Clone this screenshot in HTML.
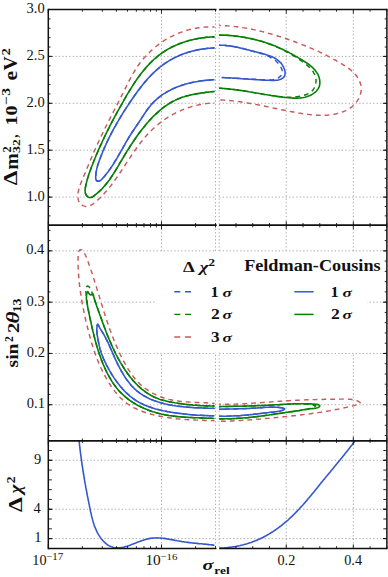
<!DOCTYPE html>
<html><head><meta charset="utf-8"><style>
html,body{margin:0;padding:0;background:#fff;width:388px;height:577px;overflow:hidden}
svg{display:block}
text{font-family:"Liberation Serif",serif;fill:#111}
.g{stroke:#a0a0a0;stroke-width:0.9;stroke-dasharray:1.3 2.2;fill:none}
.cs{fill:none;stroke-width:1.6;stroke-linejoin:round;stroke-linecap:round}
.cd{fill:none;stroke-width:1.45;stroke-dasharray:4.8 4.0}
.b{font-weight:bold}
.bi{font-weight:bold;font-style:italic}
</style></head><body>
<svg width="388" height="577" viewBox="0 0 388 577">
<rect width="388" height="577" fill="#fff"/>
<defs>
<clipPath id="cl0"><rect x="48.30" y="9.50" width="166.21" height="215.70"/></clipPath>
<clipPath id="cr0"><rect x="219.20" y="9.50" width="167.70" height="215.70"/></clipPath>
<clipPath id="cl1"><rect x="48.30" y="225.20" width="166.21" height="215.50"/></clipPath>
<clipPath id="cr1"><rect x="219.20" y="225.20" width="167.70" height="215.50"/></clipPath>
<clipPath id="cl2"><rect x="48.30" y="440.70" width="166.21" height="107.70"/></clipPath>
<clipPath id="cr2"><rect x="219.20" y="440.70" width="167.70" height="107.70"/></clipPath>
</defs>
<line x1="48.30" y1="197.10" x2="215.51" y2="197.10" class="g"/>
<line x1="219.20" y1="197.10" x2="386.90" y2="197.10" class="g"/>
<line x1="48.30" y1="150.20" x2="215.51" y2="150.20" class="g"/>
<line x1="219.20" y1="150.20" x2="386.90" y2="150.20" class="g"/>
<line x1="48.30" y1="103.30" x2="215.51" y2="103.30" class="g"/>
<line x1="219.20" y1="103.30" x2="386.90" y2="103.30" class="g"/>
<line x1="48.30" y1="56.40" x2="215.51" y2="56.40" class="g"/>
<line x1="219.20" y1="56.40" x2="386.90" y2="56.40" class="g"/>
<line x1="161.50" y1="9.50" x2="161.50" y2="225.20" class="g"/>
<line x1="215.51" y1="9.50" x2="215.51" y2="225.20" class="g"/>
<line x1="219.20" y1="9.50" x2="219.20" y2="225.20" class="g"/>
<line x1="286.26" y1="9.50" x2="286.26" y2="225.20" class="g"/>
<line x1="353.32" y1="9.50" x2="353.32" y2="225.20" class="g"/>
<line x1="48.30" y1="404.75" x2="215.51" y2="404.75" class="g"/>
<line x1="219.20" y1="404.75" x2="386.90" y2="404.75" class="g"/>
<line x1="48.30" y1="353.45" x2="215.51" y2="353.45" class="g"/>
<line x1="219.20" y1="353.45" x2="386.90" y2="353.45" class="g"/>
<line x1="48.30" y1="302.15" x2="215.51" y2="302.15" class="g"/>
<line x1="219.20" y1="302.15" x2="386.90" y2="302.15" class="g"/>
<line x1="48.30" y1="250.85" x2="215.51" y2="250.85" class="g"/>
<line x1="219.20" y1="250.85" x2="386.90" y2="250.85" class="g"/>
<line x1="161.50" y1="225.20" x2="161.50" y2="440.70" class="g"/>
<line x1="215.51" y1="225.20" x2="215.51" y2="440.70" class="g"/>
<line x1="219.20" y1="225.20" x2="219.20" y2="440.70" class="g"/>
<line x1="286.26" y1="225.20" x2="286.26" y2="440.70" class="g"/>
<line x1="353.32" y1="225.20" x2="353.32" y2="440.70" class="g"/>
<line x1="48.30" y1="538.60" x2="215.51" y2="538.60" class="g"/>
<line x1="219.20" y1="538.60" x2="386.90" y2="538.60" class="g"/>
<line x1="48.30" y1="509.23" x2="215.51" y2="509.23" class="g"/>
<line x1="219.20" y1="509.23" x2="386.90" y2="509.23" class="g"/>
<line x1="48.30" y1="460.28" x2="215.51" y2="460.28" class="g"/>
<line x1="219.20" y1="460.28" x2="386.90" y2="460.28" class="g"/>
<line x1="161.50" y1="440.70" x2="161.50" y2="548.40" class="g"/>
<line x1="215.51" y1="440.70" x2="215.51" y2="548.40" class="g"/>
<line x1="219.20" y1="440.70" x2="219.20" y2="548.40" class="g"/>
<line x1="286.26" y1="440.70" x2="286.26" y2="548.40" class="g"/>
<line x1="353.32" y1="440.70" x2="353.32" y2="548.40" class="g"/>
<path d="M217.1 27.1 L215.5 27.0 L214.0 27.0 L212.4 26.9 L210.9 26.9 L209.4 26.9 L207.8 27.0 L206.3 27.0 L204.8 27.1 L203.3 27.3 L201.8 27.4 L200.3 27.6 L198.8 27.8 L197.3 28.0 L195.8 28.3 L194.3 28.5 L192.8 28.8 L191.4 29.1 L189.9 29.5 L188.5 29.9 L187.0 30.3 L185.6 30.7 L184.2 31.1 L182.8 31.6 L181.4 32.1 L180.0 32.6 L178.6 33.2 L177.2 33.7 L175.8 34.3 L174.5 35.0 L173.1 35.6 L171.8 36.3 L170.5 36.9 L169.1 37.7 L167.8 38.4 L166.5 39.1 L165.2 39.9 L164.0 40.7 L162.7 41.6 L161.5 42.4 L160.2 43.3 L159.0 44.2 L157.8 45.1 L156.6 46.0 L155.4 47.0 L154.2 48.0 L153.1 49.0 L151.9 50.0 L150.8 51.0 L149.7 52.1 L148.6 53.1 L147.5 54.2 L146.4 55.3 L145.4 56.5 L144.4 57.6 L143.4 58.7 L142.4 59.9 L141.4 61.1 L140.5 62.3 L139.6 63.5 L138.7 64.7 L137.8 65.9 L137.0 67.2 L136.2 68.4 L135.4 69.7 L134.6 71.0 L133.8 72.3 L133.0 73.6 L132.3 74.9 L131.6 76.2 L130.9 77.5 L130.2 78.8 L129.5 80.1 L128.8 81.4 L128.1 82.8 L127.5 84.1 L126.8 85.4 L126.1 86.8 L125.4 88.1 L124.8 89.5 L124.1 90.8 L123.4 92.1 L122.8 93.5 L122.1 94.8 L121.4 96.2 L120.7 97.5 L120.0 98.9 L119.3 100.2 L118.7 101.5 L118.0 102.9 L117.3 104.2 L116.6 105.6 L115.9 106.9 L115.2 108.3 L114.5 109.6 L113.8 111.0 L113.1 112.3 L112.5 113.7 L111.8 115.0 L111.1 116.4 L110.4 117.7 L109.7 119.1 L109.0 120.4 L108.3 121.8 L107.7 123.1 L107.0 124.5 L106.3 125.8 L105.6 127.2 L104.9 128.5 L104.3 129.9 L103.6 131.3 L102.9 132.6 L102.3 134.0 L101.6 135.3 L101.0 136.7 L100.3 138.1 L99.7 139.4 L99.0 140.8 L98.4 142.1 L97.7 143.5 L97.1 144.9 L96.5 146.2 L95.9 147.6 L95.3 149.0 L94.6 150.3 L94.0 151.7 L93.4 153.1 L92.8 154.5 L92.2 155.8 L91.7 157.2 L91.1 158.6 L90.5 160.0 L89.9 161.4 L89.3 162.7 L88.7 164.1 L88.2 165.5 L87.6 166.9 L87.0 168.3 L86.4 169.7 L85.8 171.1 L85.3 172.5 L84.7 173.9 L84.1 175.3 L83.5 176.7 L82.9 178.1 L82.3 179.5 L81.7 180.9 L81.1 182.4 L80.6 183.8 L80.0 185.2 L79.6 186.7 L79.1 188.1 L78.7 189.6 L78.4 191.1 L78.1 192.6 L78.0 194.1 L77.9 195.6 L77.9 197.2 L78.1 198.7 L78.4 200.2 L78.9 201.6 L79.6 202.8 L80.6 203.9 L81.7 204.9 L82.9 205.6 L84.2 206.1 L85.6 206.4 L87.0 206.4 L88.3 206.2 L89.7 205.8 L91.0 205.2 L92.3 204.4 L93.6 203.5 L94.9 202.5 L96.1 201.5 L97.3 200.4 L98.5 199.3 L99.7 198.2 L100.8 197.1 L101.9 196.0 L103.0 194.9 L104.0 193.8 L105.0 192.6 L106.0 191.5 L107.0 190.4 L108.0 189.2 L108.9 188.1 L109.9 186.9 L110.8 185.8 L111.7 184.6 L112.6 183.4 L113.4 182.2 L114.3 181.0 L115.2 179.8 L116.0 178.6 L116.9 177.4 L117.7 176.2 L118.6 175.0 L119.4 173.7 L120.2 172.5 L121.1 171.2 L121.9 170.0 L122.7 168.7 L123.5 167.4 L124.4 166.2 L125.2 164.9 L126.0 163.6 L126.9 162.4 L127.7 161.1 L128.5 159.8 L129.4 158.6 L130.2 157.3 L131.1 156.0 L131.9 154.8 L132.8 153.5 L133.7 152.2 L134.5 151.0 L135.4 149.8 L136.3 148.5 L137.2 147.3 L138.1 146.1 L139.0 144.8 L139.9 143.6 L140.8 142.4 L141.8 141.2 L142.7 140.1 L143.7 138.9 L144.6 137.7 L145.6 136.6 L146.6 135.5 L147.6 134.3 L148.7 133.2 L149.7 132.1 L150.7 131.1 L151.8 130.0 L152.9 129.0 L154.0 128.0 L155.1 126.9 L156.2 126.0 L157.4 125.0 L158.6 124.0 L159.7 123.1 L160.9 122.2 L162.1 121.3 L163.3 120.4 L164.6 119.5 L165.8 118.7 L167.1 117.9 L168.3 117.1 L169.6 116.3 L170.9 115.5 L172.2 114.8 L173.5 114.1 L174.9 113.4 L176.2 112.7 L177.6 112.0 L178.9 111.4 L180.3 110.8 L181.7 110.2 L183.1 109.6 L184.5 109.0 L185.9 108.5 L187.3 108.0 L188.7 107.5 L190.2 107.1 L191.6 106.6 L193.1 106.2 L194.5 105.8 L196.0 105.4 L197.5 105.1 L198.9 104.8 L200.4 104.5 L201.9 104.2 L203.4 104.0 L204.9 103.8 L206.4 103.6 L207.9 103.4 L209.4 103.2 L211.0 103.1 L212.5 103.0 L214.0 103.0 L215.6 102.9 L217.1 102.9" class="cd" stroke="#c85a5a" clip-path="url(#cl0)"/>
<path d="M216.8 36.9 L215.4 36.9 L214.0 36.9 L212.6 36.9 L211.1 37.0 L209.6 37.1 L208.2 37.2 L206.7 37.3 L205.2 37.5 L203.7 37.7 L202.2 37.9 L200.7 38.1 L199.2 38.3 L197.7 38.6 L196.3 38.9 L194.8 39.2 L193.3 39.5 L191.8 39.9 L190.3 40.2 L188.8 40.6 L187.3 41.1 L185.8 41.5 L184.4 42.0 L182.9 42.5 L181.5 43.0 L180.0 43.5 L178.6 44.1 L177.2 44.7 L175.7 45.3 L174.4 45.9 L173.0 46.5 L171.6 47.2 L170.3 47.9 L168.9 48.6 L167.6 49.4 L166.3 50.2 L165.0 50.9 L163.8 51.8 L162.5 52.6 L161.3 53.5 L160.1 54.3 L159.0 55.2 L157.8 56.2 L156.6 57.1 L155.5 58.1 L154.4 59.0 L153.3 60.0 L152.2 61.1 L151.2 62.1 L150.1 63.1 L149.1 64.2 L148.1 65.3 L147.1 66.4 L146.1 67.5 L145.1 68.6 L144.2 69.8 L143.2 70.9 L142.3 72.1 L141.3 73.3 L140.4 74.5 L139.5 75.7 L138.6 76.9 L137.8 78.1 L136.9 79.3 L136.0 80.6 L135.2 81.8 L134.3 83.1 L133.5 84.4 L132.7 85.6 L131.9 86.9 L131.1 88.2 L130.3 89.5 L129.5 90.8 L128.7 92.1 L127.9 93.4 L127.1 94.7 L126.3 96.0 L125.6 97.4 L124.8 98.7 L124.1 100.0 L123.3 101.3 L122.6 102.6 L121.8 104.0 L121.1 105.3 L120.3 106.6 L119.6 107.9 L118.9 109.2 L118.1 110.6 L117.4 111.9 L116.7 113.2 L116.0 114.5 L115.2 115.9 L114.5 117.2 L113.8 118.5 L113.1 119.9 L112.4 121.2 L111.7 122.5 L111.0 123.9 L110.3 125.2 L109.6 126.5 L109.0 127.9 L108.3 129.2 L107.6 130.5 L107.0 131.9 L106.3 133.2 L105.6 134.6 L105.0 135.9 L104.3 137.3 L103.7 138.6 L103.0 140.0 L102.4 141.3 L101.8 142.7 L101.2 144.1 L100.5 145.4 L99.9 146.8 L99.3 148.2 L98.7 149.5 L98.1 150.9 L97.5 152.3 L96.9 153.7 L96.3 155.0 L95.7 156.4 L95.2 157.8 L94.6 159.2 L94.0 160.6 L93.5 162.0 L92.9 163.4 L92.4 164.8 L91.8 166.2 L91.3 167.6 L90.8 169.0 L90.3 170.5 L89.7 171.9 L89.2 173.3 L88.7 174.7 L88.3 176.2 L87.8 177.6 L87.4 179.1 L87.0 180.6 L86.6 182.1 L86.2 183.6 L85.9 185.1 L85.6 186.6 L85.3 188.1 L85.1 189.7 L85.1 191.2 L85.3 192.7 L85.7 194.1 L86.4 195.4 L87.4 196.5 L88.5 197.2 L89.7 197.6 L91.0 197.5 L92.3 197.0 L93.6 196.1 L94.8 195.2 L96.1 194.2 L97.3 193.2 L98.4 192.2 L99.6 191.1 L100.7 190.1 L101.8 189.0 L102.8 187.9 L103.8 186.7 L104.8 185.6 L105.8 184.5 L106.7 183.3 L107.7 182.1 L108.6 180.9 L109.5 179.7 L110.3 178.5 L111.2 177.3 L112.0 176.0 L112.8 174.8 L113.6 173.5 L114.4 172.2 L115.2 171.0 L116.0 169.7 L116.8 168.4 L117.6 167.1 L118.3 165.8 L119.1 164.5 L119.8 163.2 L120.6 161.9 L121.4 160.6 L122.1 159.3 L122.9 158.0 L123.7 156.8 L124.4 155.5 L125.2 154.2 L126.0 152.9 L126.8 151.6 L127.6 150.3 L128.4 149.0 L129.2 147.8 L130.0 146.5 L130.8 145.2 L131.6 144.0 L132.5 142.7 L133.3 141.5 L134.2 140.2 L135.0 139.0 L135.9 137.7 L136.7 136.5 L137.6 135.3 L138.5 134.0 L139.4 132.8 L140.3 131.6 L141.2 130.4 L142.1 129.2 L143.1 128.1 L144.0 126.9 L145.0 125.7 L145.9 124.6 L146.9 123.4 L147.9 122.3 L148.9 121.1 L149.9 120.0 L150.9 118.9 L152.0 117.8 L153.0 116.7 L154.1 115.7 L155.2 114.6 L156.3 113.6 L157.4 112.6 L158.5 111.6 L159.6 110.6 L160.8 109.6 L162.0 108.7 L163.1 107.7 L164.3 106.8 L165.5 106.0 L166.8 105.1 L168.0 104.3 L169.3 103.5 L170.5 102.7 L171.8 102.0 L173.1 101.3 L174.5 100.6 L175.8 99.9 L177.2 99.3 L178.5 98.7 L179.9 98.2 L181.3 97.6 L182.8 97.1 L184.2 96.7 L185.7 96.2 L187.1 95.8 L188.6 95.5 L190.1 95.1 L191.6 94.8 L193.1 94.5 L194.6 94.2 L196.1 93.9 L197.6 93.6 L199.1 93.4 L200.6 93.1 L202.1 92.9 L203.6 92.7 L205.1 92.5 L206.6 92.3 L208.1 92.1 L209.6 92.0 L211.1 91.8 L212.6 91.6 L214.0 91.5 L215.5 91.3 L216.9 91.1" class="cd" stroke="#067f06" clip-path="url(#cl0)"/>
<path d="M216.8 36.9 L215.4 36.9 L214.0 36.9 L212.6 36.9 L211.1 37.0 L209.6 37.1 L208.2 37.2 L206.7 37.3 L205.2 37.5 L203.7 37.7 L202.2 37.9 L200.7 38.1 L199.2 38.3 L197.7 38.6 L196.3 38.9 L194.8 39.2 L193.3 39.5 L191.8 39.9 L190.3 40.2 L188.8 40.6 L187.3 41.1 L185.8 41.5 L184.4 42.0 L182.9 42.5 L181.5 43.0 L180.0 43.5 L178.6 44.1 L177.2 44.7 L175.7 45.3 L174.4 45.9 L173.0 46.5 L171.6 47.2 L170.3 47.9 L168.9 48.6 L167.6 49.4 L166.3 50.2 L165.0 50.9 L163.8 51.8 L162.5 52.6 L161.3 53.5 L160.1 54.3 L159.0 55.2 L157.8 56.2 L156.6 57.1 L155.5 58.1 L154.4 59.0 L153.3 60.0 L152.2 61.1 L151.2 62.1 L150.1 63.1 L149.1 64.2 L148.1 65.3 L147.1 66.4 L146.1 67.5 L145.1 68.6 L144.2 69.8 L143.2 70.9 L142.3 72.1 L141.3 73.3 L140.4 74.5 L139.5 75.7 L138.6 76.9 L137.8 78.1 L136.9 79.3 L136.0 80.6 L135.2 81.8 L134.3 83.1 L133.5 84.4 L132.7 85.6 L131.9 86.9 L131.1 88.2 L130.3 89.5 L129.5 90.8 L128.7 92.1 L127.9 93.4 L127.1 94.7 L126.3 96.0 L125.6 97.4 L124.8 98.7 L124.1 100.0 L123.3 101.3 L122.6 102.6 L121.8 104.0 L121.1 105.3 L120.3 106.6 L119.6 107.9 L118.9 109.2 L118.1 110.6 L117.4 111.9 L116.7 113.2 L116.0 114.5 L115.2 115.9 L114.5 117.2 L113.8 118.5 L113.1 119.9 L112.4 121.2 L111.7 122.5 L111.0 123.9 L110.3 125.2 L109.6 126.5 L109.0 127.9 L108.3 129.2 L107.6 130.5 L107.0 131.9 L106.3 133.2 L105.6 134.6 L105.0 135.9 L104.3 137.3 L103.7 138.6 L103.0 140.0 L102.4 141.3 L101.8 142.7 L101.2 144.1 L100.5 145.4 L99.9 146.8 L99.3 148.2 L98.7 149.5 L98.1 150.9 L97.5 152.3 L96.9 153.7 L96.3 155.0 L95.7 156.4 L95.2 157.8 L94.6 159.2 L94.0 160.6 L93.5 162.0 L92.9 163.4 L92.4 164.8 L91.8 166.2 L91.3 167.6 L90.8 169.0 L90.3 170.5 L89.7 171.9 L89.2 173.3 L88.7 174.7 L88.3 176.2 L87.8 177.6 L87.4 179.1 L87.0 180.6 L86.6 182.1 L86.2 183.6 L85.9 185.1 L85.6 186.6 L85.3 188.1 L85.1 189.7 L85.1 191.2 L85.3 192.7 L85.7 194.1 L86.4 195.4 L87.4 196.5 L88.5 197.2 L89.7 197.6 L91.0 197.5 L92.3 197.0 L93.6 196.1 L94.8 195.2 L96.1 194.2 L97.3 193.2 L98.4 192.2 L99.6 191.1 L100.7 190.1 L101.8 189.0 L102.8 187.9 L103.8 186.7 L104.8 185.6 L105.8 184.5 L106.7 183.3 L107.7 182.1 L108.6 180.9 L109.5 179.7 L110.3 178.5 L111.2 177.3 L112.0 176.0 L112.8 174.8 L113.6 173.5 L114.4 172.2 L115.2 171.0 L116.0 169.7 L116.8 168.4 L117.6 167.1 L118.3 165.8 L119.1 164.5 L119.8 163.2 L120.6 161.9 L121.4 160.6 L122.1 159.3 L122.9 158.0 L123.7 156.8 L124.4 155.5 L125.2 154.2 L126.0 152.9 L126.8 151.6 L127.6 150.3 L128.4 149.0 L129.2 147.8 L130.0 146.5 L130.8 145.2 L131.6 144.0 L132.5 142.7 L133.3 141.5 L134.2 140.2 L135.0 139.0 L135.9 137.7 L136.7 136.5 L137.6 135.3 L138.5 134.0 L139.4 132.8 L140.3 131.6 L141.2 130.4 L142.1 129.2 L143.1 128.1 L144.0 126.9 L145.0 125.7 L145.9 124.6 L146.9 123.4 L147.9 122.3 L148.9 121.1 L149.9 120.0 L150.9 118.9 L152.0 117.8 L153.0 116.7 L154.1 115.7 L155.2 114.6 L156.3 113.6 L157.4 112.6 L158.5 111.6 L159.6 110.6 L160.8 109.6 L162.0 108.7 L163.1 107.7 L164.3 106.8 L165.5 106.0 L166.8 105.1 L168.0 104.3 L169.3 103.5 L170.5 102.7 L171.8 102.0 L173.1 101.3 L174.5 100.6 L175.8 99.9 L177.2 99.3 L178.5 98.7 L179.9 98.2 L181.3 97.6 L182.8 97.1 L184.2 96.7 L185.7 96.2 L187.1 95.8 L188.6 95.5 L190.1 95.1 L191.6 94.8 L193.1 94.5 L194.6 94.2 L196.1 93.9 L197.6 93.6 L199.1 93.4 L200.6 93.1 L202.1 92.9 L203.6 92.7 L205.1 92.5 L206.6 92.3 L208.1 92.1 L209.6 92.0 L211.1 91.8 L212.6 91.6 L214.0 91.5 L215.5 91.3 L216.9 91.1" class="cs" stroke="#067f06" clip-path="url(#cl0)"/>
<path d="M216.9 47.9 L215.5 47.9 L214.0 47.9 L212.5 48.0 L211.0 48.1 L209.6 48.2 L208.1 48.3 L206.6 48.5 L205.1 48.7 L203.6 48.9 L202.1 49.1 L200.6 49.3 L199.1 49.6 L197.6 49.9 L196.1 50.2 L194.6 50.6 L193.2 50.9 L191.7 51.3 L190.2 51.7 L188.8 52.1 L187.3 52.6 L185.9 53.1 L184.4 53.6 L183.0 54.1 L181.6 54.6 L180.1 55.2 L178.7 55.8 L177.4 56.4 L176.0 57.0 L174.6 57.7 L173.3 58.4 L172.0 59.1 L170.6 59.8 L169.3 60.6 L168.1 61.4 L166.8 62.2 L165.5 63.0 L164.3 63.8 L163.1 64.7 L161.9 65.6 L160.7 66.5 L159.6 67.4 L158.4 68.4 L157.3 69.4 L156.2 70.3 L155.1 71.4 L154.0 72.4 L152.9 73.4 L151.8 74.5 L150.8 75.5 L149.8 76.6 L148.7 77.7 L147.7 78.8 L146.7 80.0 L145.7 81.1 L144.7 82.3 L143.8 83.4 L142.8 84.6 L141.9 85.8 L140.9 87.0 L140.0 88.2 L139.1 89.4 L138.2 90.6 L137.3 91.8 L136.4 93.0 L135.5 94.3 L134.6 95.5 L133.7 96.8 L132.9 98.0 L132.0 99.3 L131.2 100.5 L130.3 101.8 L129.5 103.0 L128.6 104.3 L127.8 105.6 L127.0 106.8 L126.1 108.1 L125.3 109.4 L124.5 110.6 L123.7 111.9 L122.9 113.2 L122.1 114.5 L121.3 115.7 L120.6 117.0 L119.8 118.3 L119.0 119.6 L118.3 120.9 L117.5 122.2 L116.7 123.5 L116.0 124.8 L115.3 126.1 L114.5 127.4 L113.8 128.7 L113.1 130.0 L112.4 131.3 L111.7 132.7 L111.0 134.0 L110.3 135.3 L109.7 136.7 L109.0 138.0 L108.3 139.4 L107.7 140.7 L107.0 142.1 L106.4 143.4 L105.8 144.8 L105.1 146.2 L104.5 147.6 L103.9 149.0 L103.3 150.4 L102.7 151.7 L102.2 153.2 L101.6 154.6 L101.0 156.0 L100.5 157.4 L100.0 158.8 L99.4 160.3 L98.9 161.7 L98.4 163.2 L97.9 164.6 L97.5 166.1 L97.1 167.6 L96.7 169.1 L96.4 170.6 L96.1 172.1 L95.9 173.6 L95.8 175.1 L95.7 176.6 L95.7 178.2 L96.0 179.6 L96.5 180.6 L97.3 181.2 L98.4 181.2 L99.7 180.9 L100.8 180.1 L102.0 179.1 L103.0 177.9 L104.1 176.7 L105.1 175.5 L106.1 174.3 L107.1 173.1 L108.0 171.9 L108.9 170.6 L109.8 169.4 L110.7 168.1 L111.6 166.8 L112.4 165.6 L113.2 164.3 L114.0 163.0 L114.8 161.7 L115.6 160.4 L116.4 159.1 L117.2 157.8 L117.9 156.5 L118.7 155.2 L119.4 153.9 L120.2 152.6 L120.9 151.3 L121.6 150.0 L122.4 148.7 L123.1 147.4 L123.8 146.1 L124.6 144.8 L125.3 143.5 L126.0 142.2 L126.8 140.9 L127.6 139.6 L128.3 138.3 L129.1 137.0 L129.9 135.8 L130.7 134.5 L131.5 133.2 L132.3 132.0 L133.1 130.8 L134.0 129.5 L134.8 128.3 L135.7 127.0 L136.5 125.8 L137.4 124.5 L138.2 123.3 L139.1 122.0 L139.9 120.7 L140.8 119.5 L141.6 118.2 L142.4 116.9 L143.3 115.6 L144.1 114.3 L145.0 113.1 L145.8 111.8 L146.7 110.5 L147.6 109.3 L148.5 108.1 L149.4 106.9 L150.4 105.7 L151.3 104.6 L152.3 103.4 L153.4 102.4 L154.4 101.3 L155.5 100.3 L156.6 99.3 L157.7 98.3 L158.9 97.4 L160.1 96.5 L161.3 95.6 L162.5 94.7 L163.7 93.9 L165.0 93.1 L166.2 92.3 L167.5 91.6 L168.8 90.9 L170.2 90.2 L171.5 89.5 L172.9 88.8 L174.2 88.2 L175.6 87.6 L177.0 87.1 L178.4 86.5 L179.9 86.0 L181.3 85.5 L182.7 85.0 L184.2 84.6 L185.7 84.1 L187.1 83.7 L188.6 83.3 L190.1 83.0 L191.6 82.6 L193.1 82.3 L194.6 82.0 L196.0 81.7 L197.5 81.5 L199.1 81.2 L200.6 81.0 L202.1 80.8 L203.6 80.6 L205.1 80.4 L206.6 80.3 L208.1 80.2 L209.5 80.0 L211.0 79.9 L212.5 79.9 L214.0 79.8 L215.5 79.8 L216.9 79.7" class="cd" stroke="#3558cf" clip-path="url(#cl0)"/>
<path d="M216.9 47.9 L215.5 47.9 L214.0 47.9 L212.5 48.0 L211.0 48.1 L209.6 48.2 L208.1 48.3 L206.6 48.5 L205.1 48.7 L203.6 48.9 L202.1 49.1 L200.6 49.3 L199.1 49.6 L197.6 49.9 L196.1 50.2 L194.6 50.6 L193.2 50.9 L191.7 51.3 L190.2 51.7 L188.8 52.1 L187.3 52.6 L185.9 53.1 L184.4 53.6 L183.0 54.1 L181.6 54.6 L180.1 55.2 L178.7 55.8 L177.4 56.4 L176.0 57.0 L174.6 57.7 L173.3 58.4 L172.0 59.1 L170.6 59.8 L169.3 60.6 L168.1 61.4 L166.8 62.2 L165.5 63.0 L164.3 63.8 L163.1 64.7 L161.9 65.6 L160.7 66.5 L159.6 67.4 L158.4 68.4 L157.3 69.4 L156.2 70.3 L155.1 71.4 L154.0 72.4 L152.9 73.4 L151.8 74.5 L150.8 75.5 L149.8 76.6 L148.7 77.7 L147.7 78.8 L146.7 80.0 L145.7 81.1 L144.7 82.3 L143.8 83.4 L142.8 84.6 L141.9 85.8 L140.9 87.0 L140.0 88.2 L139.1 89.4 L138.2 90.6 L137.3 91.8 L136.4 93.0 L135.5 94.3 L134.6 95.5 L133.7 96.8 L132.9 98.0 L132.0 99.3 L131.2 100.5 L130.3 101.8 L129.5 103.0 L128.6 104.3 L127.8 105.6 L127.0 106.8 L126.1 108.1 L125.3 109.4 L124.5 110.6 L123.7 111.9 L122.9 113.2 L122.1 114.5 L121.3 115.7 L120.6 117.0 L119.8 118.3 L119.0 119.6 L118.3 120.9 L117.5 122.2 L116.7 123.5 L116.0 124.8 L115.3 126.1 L114.5 127.4 L113.8 128.7 L113.1 130.0 L112.4 131.3 L111.7 132.7 L111.0 134.0 L110.3 135.3 L109.7 136.7 L109.0 138.0 L108.3 139.4 L107.7 140.7 L107.0 142.1 L106.4 143.4 L105.8 144.8 L105.1 146.2 L104.5 147.6 L103.9 149.0 L103.3 150.4 L102.7 151.7 L102.2 153.2 L101.6 154.6 L101.0 156.0 L100.5 157.4 L100.0 158.8 L99.4 160.3 L98.9 161.7 L98.4 163.2 L97.9 164.6 L97.5 166.1 L97.1 167.6 L96.7 169.1 L96.4 170.6 L96.1 172.1 L95.9 173.6 L95.8 175.1 L95.7 176.6 L95.7 178.2 L96.0 179.6 L96.5 180.6 L97.3 181.2 L98.4 181.2 L99.7 180.9 L100.8 180.1 L102.0 179.1 L103.0 177.9 L104.1 176.7 L105.1 175.5 L106.1 174.3 L107.1 173.1 L108.0 171.9 L108.9 170.6 L109.8 169.4 L110.7 168.1 L111.6 166.8 L112.4 165.6 L113.2 164.3 L114.0 163.0 L114.8 161.7 L115.6 160.4 L116.4 159.1 L117.2 157.8 L117.9 156.5 L118.7 155.2 L119.4 153.9 L120.2 152.6 L120.9 151.3 L121.6 150.0 L122.4 148.7 L123.1 147.4 L123.8 146.1 L124.6 144.8 L125.3 143.5 L126.0 142.2 L126.8 140.9 L127.6 139.6 L128.3 138.3 L129.1 137.0 L129.9 135.8 L130.7 134.5 L131.5 133.2 L132.3 132.0 L133.1 130.8 L134.0 129.5 L134.8 128.3 L135.7 127.0 L136.5 125.8 L137.4 124.5 L138.2 123.3 L139.1 122.0 L139.9 120.7 L140.8 119.5 L141.6 118.2 L142.4 116.9 L143.3 115.6 L144.1 114.3 L145.0 113.1 L145.8 111.8 L146.7 110.5 L147.6 109.3 L148.5 108.1 L149.4 106.9 L150.4 105.7 L151.3 104.6 L152.3 103.4 L153.4 102.4 L154.4 101.3 L155.5 100.3 L156.6 99.3 L157.7 98.3 L158.9 97.4 L160.1 96.5 L161.3 95.6 L162.5 94.7 L163.7 93.9 L165.0 93.1 L166.2 92.3 L167.5 91.6 L168.8 90.9 L170.2 90.2 L171.5 89.5 L172.9 88.8 L174.2 88.2 L175.6 87.6 L177.0 87.1 L178.4 86.5 L179.9 86.0 L181.3 85.5 L182.7 85.0 L184.2 84.6 L185.7 84.1 L187.1 83.7 L188.6 83.3 L190.1 83.0 L191.6 82.6 L193.1 82.3 L194.6 82.0 L196.0 81.7 L197.5 81.5 L199.1 81.2 L200.6 81.0 L202.1 80.8 L203.6 80.6 L205.1 80.4 L206.6 80.3 L208.1 80.2 L209.5 80.0 L211.0 79.9 L212.5 79.9 L214.0 79.8 L215.5 79.8 L216.9 79.7" class="cs" stroke="#3558cf" clip-path="url(#cl0)"/>
<path d="M216.0 25.5 L217.5 25.5 L219.0 25.5 L220.5 25.5 L222.0 25.6 L223.5 25.6 L225.0 25.7 L226.5 25.8 L228.0 25.9 L229.5 26.0 L231.0 26.2 L232.5 26.3 L234.0 26.5 L235.5 26.6 L237.0 26.8 L238.5 27.0 L240.0 27.2 L241.5 27.4 L243.0 27.7 L244.5 27.9 L246.0 28.1 L247.5 28.4 L249.0 28.7 L250.5 29.0 L252.0 29.3 L253.4 29.6 L254.9 29.9 L256.4 30.2 L257.9 30.6 L259.4 30.9 L260.8 31.3 L262.3 31.6 L263.8 32.0 L265.2 32.4 L266.7 32.8 L268.2 33.2 L269.6 33.6 L271.1 34.0 L272.6 34.4 L274.0 34.8 L275.5 35.3 L276.9 35.7 L278.4 36.2 L279.8 36.6 L281.2 37.1 L282.7 37.6 L284.1 38.0 L285.5 38.5 L287.0 39.0 L288.4 39.5 L289.8 40.0 L291.2 40.5 L292.6 41.0 L294.1 41.5 L295.5 42.0 L296.9 42.6 L298.3 43.1 L299.7 43.6 L301.0 44.2 L302.4 44.7 L303.8 45.3 L305.2 45.8 L306.6 46.4 L308.0 46.9 L309.3 47.5 L310.7 48.1 L312.1 48.7 L313.5 49.3 L314.8 49.9 L316.2 50.5 L317.5 51.1 L318.9 51.7 L320.3 52.4 L321.6 53.0 L323.0 53.7 L324.3 54.3 L325.7 55.0 L327.0 55.7 L328.4 56.4 L329.8 57.1 L331.1 57.8 L332.5 58.5 L333.8 59.3 L335.2 60.0 L336.5 60.8 L337.9 61.6 L339.2 62.4 L340.6 63.2 L341.9 64.0 L343.3 64.8 L344.6 65.6 L345.9 66.5 L347.2 67.4 L348.5 68.3 L349.7 69.2 L351.0 70.2 L352.1 71.2 L353.2 72.2 L354.3 73.3 L355.3 74.4 L356.3 75.5 L357.1 76.7 L357.9 78.0 L358.7 79.2 L359.3 80.5 L359.9 81.9 L360.3 83.2 L360.7 84.6 L361.0 86.0 L361.1 87.3 L361.2 88.8 L361.2 90.2 L361.0 91.6 L360.8 93.0 L360.4 94.3 L360.0 95.7 L359.4 97.1 L358.8 98.4 L358.1 99.7 L357.3 100.9 L356.4 102.1 L355.5 103.3 L354.5 104.4 L353.4 105.5 L352.3 106.5 L351.1 107.4 L349.8 108.3 L348.5 109.1 L347.2 109.9 L345.8 110.6 L344.4 111.2 L343.0 111.8 L341.5 112.3 L340.0 112.8 L338.5 113.2 L337.0 113.6 L335.5 114.0 L334.0 114.3 L332.5 114.5 L331.0 114.7 L329.5 114.9 L327.9 115.1 L326.4 115.2 L324.9 115.3 L323.4 115.3 L321.9 115.3 L320.4 115.3 L318.9 115.3 L317.4 115.2 L315.9 115.2 L314.3 115.0 L312.8 114.9 L311.3 114.8 L309.8 114.6 L308.3 114.4 L306.8 114.2 L305.3 114.0 L303.8 113.8 L302.3 113.6 L300.8 113.3 L299.3 113.1 L297.8 112.8 L296.4 112.6 L294.9 112.3 L293.4 112.0 L291.9 111.7 L290.4 111.5 L288.9 111.2 L287.4 110.9 L286.0 110.6 L284.5 110.3 L283.0 110.0 L281.5 109.7 L280.1 109.4 L278.6 109.1 L277.1 108.8 L275.6 108.5 L274.2 108.2 L272.7 107.9 L271.2 107.5 L269.7 107.2 L268.3 106.9 L266.8 106.6 L265.3 106.3 L263.8 106.0 L262.4 105.7 L260.9 105.4 L259.4 105.1 L257.9 104.8 L256.4 104.6 L255.0 104.3 L253.5 104.0 L252.0 103.7 L250.5 103.5 L249.0 103.2 L247.6 103.0 L246.1 102.7 L244.6 102.5 L243.1 102.2 L241.6 102.0 L240.1 101.8 L238.6 101.6 L237.1 101.4 L235.6 101.2 L234.1 101.0 L232.6 100.9 L231.1 100.7 L229.6 100.5 L228.1 100.4 L226.6 100.3 L225.1 100.2 L223.6 100.1 L222.1 100.0 L220.5 99.9 L219.0 99.9 L217.5 99.8 L216.0 99.8" class="cd" stroke="#c85a5a" clip-path="url(#cr0)"/>
<path d="M216.1 35.0 L217.6 35.0 L219.0 35.0 L220.5 35.1 L222.0 35.1 L223.5 35.1 L225.0 35.2 L226.5 35.3 L228.0 35.4 L229.5 35.5 L231.0 35.6 L232.5 35.8 L234.0 35.9 L235.5 36.1 L237.0 36.3 L238.6 36.5 L240.1 36.7 L241.6 36.9 L243.1 37.1 L244.6 37.4 L246.1 37.7 L247.6 38.0 L249.2 38.3 L250.7 38.6 L252.2 38.9 L253.6 39.2 L255.1 39.6 L256.6 40.0 L258.1 40.4 L259.6 40.8 L261.0 41.2 L262.5 41.6 L263.9 42.1 L265.3 42.5 L266.8 43.0 L268.2 43.5 L269.6 44.0 L271.0 44.5 L272.4 45.1 L273.7 45.6 L275.1 46.2 L276.5 46.8 L277.8 47.4 L279.2 48.0 L280.5 48.6 L281.8 49.2 L283.2 49.9 L284.5 50.6 L285.8 51.3 L287.1 52.0 L288.4 52.7 L289.7 53.5 L291.0 54.3 L292.3 55.0 L293.7 55.8 L295.0 56.7 L296.3 57.5 L297.6 58.4 L298.9 59.2 L300.2 60.1 L301.5 61.0 L302.8 62.0 L304.1 62.9 L305.4 63.9 L306.6 64.9 L307.8 65.9 L309.0 67.0 L310.1 68.1 L311.1 69.2 L312.1 70.4 L313.0 71.5 L313.7 72.8 L314.4 74.0 L315.0 75.3 L315.5 76.6 L315.8 78.0 L316.0 79.4 L316.0 80.9 L315.9 82.4 L315.7 83.8 L315.4 85.3 L314.9 86.7 L314.2 88.0 L313.5 89.2 L312.6 90.4 L311.6 91.4 L310.4 92.4 L309.1 93.2 L307.8 93.9 L306.4 94.5 L304.9 95.0 L303.4 95.5 L301.8 95.8 L300.2 96.2 L298.6 96.4 L297.0 96.6 L295.5 96.8 L293.9 96.9 L292.4 97.0 L290.9 97.1 L289.4 97.1 L287.9 97.1 L286.4 97.1 L284.9 97.0 L283.4 96.9 L281.9 96.8 L280.5 96.7 L279.0 96.6 L277.5 96.4 L276.0 96.2 L274.5 96.0 L273.1 95.8 L271.6 95.6 L270.1 95.4 L268.6 95.2 L267.1 95.0 L265.6 94.7 L264.1 94.5 L262.6 94.2 L261.1 93.9 L259.6 93.7 L258.1 93.4 L256.6 93.1 L255.1 92.9 L253.6 92.6 L252.1 92.3 L250.6 92.0 L249.1 91.8 L247.6 91.5 L246.1 91.2 L244.6 91.0 L243.1 90.7 L241.6 90.5 L240.1 90.2 L238.6 90.0 L237.1 89.8 L235.6 89.6 L234.1 89.4 L232.6 89.2 L231.1 89.0 L229.5 88.9 L228.0 88.7 L226.5 88.6 L225.0 88.5 L223.5 88.4 L222.0 88.3 L220.5 88.2 L219.0 88.2 L217.5 88.1 L216.0 88.1" class="cd" stroke="#067f06" clip-path="url(#cr0)"/>
<path d="M216.1 35.0 L217.6 35.0 L219.0 35.0 L220.5 35.1 L222.0 35.1 L223.5 35.1 L225.0 35.2 L226.5 35.3 L228.0 35.4 L229.5 35.5 L231.0 35.6 L232.5 35.8 L234.0 35.9 L235.6 36.1 L237.1 36.3 L238.6 36.5 L240.1 36.7 L241.6 36.9 L243.1 37.2 L244.7 37.4 L246.2 37.7 L247.7 38.0 L249.2 38.3 L250.7 38.6 L252.2 38.9 L253.7 39.3 L255.2 39.6 L256.7 40.0 L258.1 40.4 L259.6 40.8 L261.1 41.2 L262.5 41.6 L264.0 42.1 L265.4 42.5 L266.8 43.0 L268.2 43.5 L269.7 44.0 L271.1 44.5 L272.4 45.0 L273.8 45.6 L275.2 46.1 L276.6 46.7 L277.9 47.3 L279.3 47.9 L280.6 48.5 L282.0 49.1 L283.3 49.7 L284.7 50.4 L286.0 51.1 L287.4 51.7 L288.7 52.4 L290.0 53.1 L291.4 53.8 L292.7 54.6 L294.0 55.3 L295.4 56.1 L296.7 56.8 L298.1 57.6 L299.4 58.4 L300.8 59.2 L302.1 60.0 L303.5 60.9 L304.8 61.7 L306.2 62.6 L307.5 63.5 L308.8 64.4 L310.0 65.4 L311.2 66.4 L312.4 67.4 L313.5 68.5 L314.5 69.6 L315.4 70.7 L316.3 71.9 L317.1 73.1 L317.9 74.4 L318.5 75.8 L319.0 77.1 L319.4 78.6 L319.7 80.0 L319.8 81.5 L319.9 83.0 L319.7 84.4 L319.5 85.8 L319.0 87.1 L318.4 88.4 L317.6 89.6 L316.7 90.7 L315.7 91.8 L314.6 92.7 L313.3 93.6 L312.0 94.4 L310.7 95.2 L309.3 95.8 L307.9 96.3 L306.5 96.8 L305.0 97.2 L303.5 97.5 L302.0 97.7 L300.5 97.9 L299.0 98.0 L297.5 98.1 L295.9 98.1 L294.4 98.1 L292.8 98.1 L291.3 98.0 L289.7 97.8 L288.2 97.7 L286.6 97.5 L285.1 97.4 L283.5 97.2 L282.0 97.0 L280.5 96.8 L278.9 96.6 L277.4 96.4 L275.9 96.1 L274.4 95.9 L272.9 95.7 L271.4 95.5 L269.9 95.2 L268.4 95.0 L266.9 94.7 L265.4 94.5 L263.9 94.2 L262.4 94.0 L261.0 93.7 L259.5 93.5 L258.0 93.2 L256.5 93.0 L255.0 92.7 L253.6 92.5 L252.1 92.2 L250.6 92.0 L249.1 91.8 L247.7 91.5 L246.2 91.3 L244.7 91.0 L243.2 90.8 L241.7 90.6 L240.2 90.4 L238.8 90.2 L237.3 90.0 L235.8 89.8 L234.3 89.6 L232.8 89.4 L231.3 89.2 L229.8 89.1 L228.2 88.9 L226.7 88.7 L225.2 88.6 L223.7 88.5 L222.1 88.4 L220.6 88.3 L219.0 88.2 L217.5 88.1 L215.9 88.0" class="cs" stroke="#067f06" clip-path="url(#cr0)"/>
<path d="M215.9 45.4 L217.5 45.3 L219.1 45.3 L220.7 45.3 L222.2 45.3 L223.8 45.4 L225.3 45.5 L226.8 45.6 L228.3 45.8 L229.8 45.9 L231.3 46.1 L232.7 46.4 L234.2 46.6 L235.7 46.9 L237.1 47.2 L238.6 47.5 L240.0 47.8 L241.5 48.1 L242.9 48.5 L244.4 48.9 L245.8 49.2 L247.3 49.6 L248.7 50.0 L250.2 50.4 L251.7 50.8 L253.2 51.3 L254.7 51.7 L256.2 52.1 L257.7 52.5 L259.2 53.0 L260.7 53.5 L262.2 53.9 L263.7 54.5 L265.1 55.0 L266.6 55.6 L268.0 56.2 L269.4 56.8 L270.7 57.5 L272.0 58.3 L273.3 59.1 L274.5 59.9 L275.6 60.8 L276.7 61.8 L277.8 62.9 L278.7 64.0 L279.6 65.2 L280.4 66.4 L281.2 67.8 L281.8 69.2 L282.2 70.6 L282.3 72.0 L282.2 73.4 L281.7 74.7 L280.8 75.9 L279.6 76.9 L278.3 77.8 L276.9 78.5 L275.5 79.1 L274.0 79.4 L272.5 79.7 L271.0 79.9 L269.5 79.9 L267.9 79.9 L266.4 79.9 L264.8 79.8 L263.2 79.7 L261.7 79.6 L260.1 79.6 L258.6 79.5 L257.1 79.4 L255.6 79.3 L254.0 79.2 L252.5 79.2 L251.0 79.1 L249.5 79.0 L248.0 78.9 L246.5 78.8 L245.0 78.8 L243.5 78.7 L242.0 78.6 L240.5 78.5 L239.0 78.4 L237.5 78.4 L236.0 78.3 L234.5 78.2 L233.0 78.1 L231.5 78.0 L230.0 78.0 L228.4 77.9 L226.9 77.8 L225.4 77.7 L223.8 77.6 L222.3 77.6" class="cd" stroke="#3558cf" clip-path="url(#cr0)"/>
<path d="M215.8 45.4 L217.5 45.3 L219.1 45.2 L220.7 45.2 L222.3 45.3 L223.9 45.3 L225.4 45.4 L226.9 45.6 L228.4 45.7 L229.9 45.9 L231.4 46.1 L232.9 46.4 L234.3 46.7 L235.8 46.9 L237.2 47.2 L238.6 47.6 L240.1 47.9 L241.5 48.3 L242.9 48.6 L244.4 49.0 L245.8 49.4 L247.3 49.7 L248.8 50.1 L250.2 50.5 L251.7 50.9 L253.2 51.3 L254.8 51.6 L256.3 52.0 L257.8 52.4 L259.4 52.7 L260.9 53.1 L262.5 53.5 L264.0 53.9 L265.6 54.4 L267.1 54.9 L268.5 55.4 L270.0 55.9 L271.4 56.5 L272.8 57.1 L274.1 57.8 L275.4 58.5 L276.6 59.3 L277.8 60.2 L278.9 61.1 L280.0 62.1 L281.0 63.1 L281.9 64.3 L282.7 65.6 L283.4 66.9 L284.0 68.3 L284.6 69.8 L284.9 71.4 L285.1 72.9 L285.0 74.4 L284.7 75.7 L284.0 76.9 L283.0 77.9 L281.8 78.7 L280.5 79.3 L279.1 79.8 L277.6 80.1 L276.0 80.3 L274.4 80.4 L272.8 80.4 L271.1 80.4 L269.5 80.3 L267.9 80.3 L266.3 80.2 L264.7 80.2 L263.2 80.1 L261.6 80.0 L260.1 79.9 L258.5 79.8 L257.0 79.7 L255.5 79.6 L254.0 79.5 L252.5 79.4 L251.0 79.3 L249.5 79.2 L248.1 79.1 L246.6 79.0 L245.1 78.9 L243.6 78.8 L242.2 78.7 L240.7 78.6 L239.2 78.4 L237.7 78.3 L236.2 78.2 L234.7 78.2 L233.2 78.1 L231.6 78.0 L230.1 77.9 L228.6 77.8 L227.0 77.7 L225.4 77.7 L223.8 77.6 L222.2 77.6" class="cs" stroke="#3558cf" clip-path="url(#cr0)"/>
<path d="M217.0 403.6 L215.5 403.4 L214.0 403.3 L212.5 403.2 L211.1 403.0 L209.6 402.9 L208.1 402.9 L206.6 402.8 L205.1 402.7 L203.6 402.6 L202.1 402.6 L200.5 402.5 L199.0 402.5 L197.5 402.4 L196.0 402.4 L194.5 402.3 L193.0 402.2 L191.4 402.2 L189.9 402.1 L188.4 402.0 L186.9 401.9 L185.4 401.8 L183.9 401.7 L182.4 401.5 L180.9 401.4 L179.4 401.2 L177.9 401.0 L176.4 400.8 L174.9 400.6 L173.4 400.3 L171.9 400.0 L170.5 399.7 L169.0 399.4 L167.5 399.0 L166.1 398.6 L164.6 398.1 L163.2 397.7 L161.8 397.2 L160.4 396.7 L159.0 396.1 L157.6 395.5 L156.2 394.9 L154.9 394.2 L153.5 393.6 L152.2 392.9 L150.9 392.1 L149.6 391.4 L148.4 390.6 L147.1 389.7 L145.9 388.9 L144.7 388.0 L143.5 387.1 L142.4 386.1 L141.2 385.2 L140.1 384.2 L139.1 383.1 L138.0 382.1 L137.0 381.0 L136.0 379.8 L135.0 378.7 L134.1 377.5 L133.2 376.4 L132.2 375.2 L131.4 373.9 L130.5 372.7 L129.7 371.4 L128.8 370.2 L128.0 368.9 L127.3 367.6 L126.5 366.3 L125.7 364.9 L125.0 363.6 L124.3 362.3 L123.5 360.9 L122.8 359.6 L122.2 358.3 L121.5 356.9 L120.8 355.6 L120.1 354.2 L119.5 352.8 L118.9 351.5 L118.2 350.1 L117.6 348.8 L117.0 347.4 L116.4 346.0 L115.8 344.6 L115.2 343.3 L114.7 341.9 L114.1 340.5 L113.5 339.1 L113.0 337.7 L112.4 336.3 L111.9 334.9 L111.4 333.5 L110.9 332.1 L110.3 330.7 L109.8 329.3 L109.3 327.9 L108.8 326.5 L108.3 325.1 L107.8 323.6 L107.4 322.2 L106.9 320.8 L106.4 319.3 L105.9 317.9 L105.5 316.5 L105.0 315.0 L104.6 313.6 L104.1 312.2 L103.7 310.7 L103.2 309.3 L102.8 307.8 L102.3 306.4 L101.9 304.9 L101.4 303.5 L101.0 302.0 L100.6 300.6 L100.1 299.2 L99.7 297.7 L99.2 296.3 L98.8 294.8 L98.4 293.4 L97.9 291.9 L97.5 290.5 L97.0 289.0 L96.6 287.6 L96.2 286.2 L95.7 284.7 L95.3 283.3 L94.8 281.9 L94.4 280.4 L93.9 279.0 L93.5 277.6 L93.0 276.2 L92.5 274.8 L92.1 273.3 L91.6 271.9 L91.1 270.5 L90.7 269.1 L90.2 267.7 L89.7 266.3 L89.2 264.9 L88.7 263.5 L88.2 262.1 L87.6 260.7 L87.1 259.2 L86.5 257.7 L85.9 256.2 L85.2 254.7 L84.6 253.1 L83.8 251.7 L82.9 250.6 L81.9 249.9 L80.8 249.7 L79.8 250.0 L79.0 250.8 L78.6 251.9 L78.3 253.2 L78.1 254.7 L78.1 256.3 L78.1 257.9 L78.0 259.5 L78.1 261.1 L78.1 262.7 L78.1 264.2 L78.1 265.8 L78.2 267.4 L78.2 268.9 L78.3 270.5 L78.4 272.0 L78.5 273.6 L78.6 275.1 L78.7 276.6 L78.8 278.1 L79.0 279.7 L79.1 281.2 L79.3 282.7 L79.4 284.2 L79.6 285.7 L79.8 287.2 L80.0 288.7 L80.2 290.2 L80.4 291.7 L80.6 293.1 L80.8 294.6 L81.0 296.1 L81.3 297.6 L81.5 299.1 L81.8 300.5 L82.0 302.0 L82.3 303.5 L82.6 304.9 L82.8 306.4 L83.1 307.8 L83.4 309.3 L83.7 310.8 L84.0 312.2 L84.3 313.7 L84.6 315.1 L85.0 316.6 L85.3 318.1 L85.6 319.5 L85.9 321.0 L86.3 322.4 L86.6 323.9 L87.0 325.4 L87.3 326.8 L87.7 328.3 L88.1 329.7 L88.4 331.2 L88.8 332.7 L89.2 334.1 L89.6 335.6 L90.0 337.0 L90.4 338.5 L90.8 339.9 L91.2 341.4 L91.6 342.8 L92.1 344.3 L92.5 345.7 L93.0 347.2 L93.5 348.6 L93.9 350.0 L94.4 351.5 L94.9 352.9 L95.4 354.3 L95.9 355.7 L96.5 357.1 L97.0 358.6 L97.6 360.0 L98.1 361.4 L98.7 362.8 L99.3 364.1 L99.9 365.5 L100.5 366.9 L101.1 368.3 L101.8 369.6 L102.4 371.0 L103.1 372.4 L103.8 373.7 L104.5 375.1 L105.2 376.4 L105.9 377.7 L106.6 379.0 L107.4 380.3 L108.2 381.6 L109.0 382.9 L109.8 384.2 L110.6 385.5 L111.4 386.7 L112.3 388.0 L113.2 389.2 L114.1 390.4 L115.0 391.6 L116.0 392.8 L116.9 393.9 L117.9 395.0 L118.9 396.1 L119.9 397.2 L121.0 398.3 L122.1 399.3 L123.2 400.3 L124.3 401.3 L125.5 402.2 L126.6 403.1 L127.8 404.0 L129.1 404.8 L130.3 405.6 L131.6 406.4 L132.9 407.1 L134.2 407.8 L135.6 408.5 L137.0 409.2 L138.3 409.8 L139.7 410.4 L141.2 410.9 L142.6 411.5 L144.0 412.0 L145.5 412.5 L146.9 412.9 L148.4 413.4 L149.8 413.8 L151.3 414.2 L152.8 414.6 L154.2 415.0 L155.7 415.3 L157.2 415.7 L158.6 416.0 L160.1 416.3 L161.6 416.6 L163.1 416.9 L164.5 417.1 L166.0 417.4 L167.5 417.6 L169.0 417.8 L170.5 418.0 L172.0 418.2 L173.4 418.4 L174.9 418.6 L176.4 418.7 L177.9 418.9 L179.4 419.0 L180.9 419.2 L182.4 419.3 L183.9 419.4 L185.4 419.5 L186.9 419.6 L188.4 419.7 L189.9 419.8 L191.4 419.8 L192.9 419.9 L194.4 420.0 L195.9 420.1 L197.4 420.1 L198.9 420.2 L200.4 420.2 L201.9 420.3 L203.4 420.3 L204.9 420.4 L206.4 420.4 L208.0 420.5 L209.5 420.5 L211.0 420.6 L212.5 420.6 L214.0 420.7 L215.5 420.7 L217.0 420.8" class="cd" stroke="#c85a5a" clip-path="url(#cl1)"/>
<path d="M217.0 405.9 L215.5 405.9 L213.9 405.9 L212.4 406.0 L210.8 406.0 L209.3 405.9 L207.8 405.9 L206.3 405.9 L204.7 405.8 L203.3 405.8 L201.8 405.7 L200.3 405.6 L198.8 405.5 L197.3 405.4 L195.8 405.3 L194.4 405.2 L192.9 405.1 L191.4 404.9 L189.9 404.8 L188.5 404.6 L187.0 404.5 L185.5 404.3 L184.0 404.1 L182.6 403.9 L181.1 403.7 L179.6 403.5 L178.1 403.3 L176.6 403.0 L175.1 402.8 L173.5 402.5 L172.0 402.3 L170.5 402.0 L169.0 401.7 L167.5 401.4 L166.0 401.0 L164.5 400.6 L163.0 400.2 L161.6 399.8 L160.1 399.4 L158.7 398.9 L157.3 398.3 L155.9 397.8 L154.5 397.2 L153.2 396.6 L151.9 395.9 L150.6 395.2 L149.3 394.4 L148.0 393.6 L146.8 392.8 L145.6 392.0 L144.4 391.1 L143.2 390.2 L142.0 389.3 L140.9 388.3 L139.8 387.3 L138.7 386.3 L137.6 385.3 L136.5 384.2 L135.5 383.1 L134.5 382.0 L133.5 380.9 L132.5 379.8 L131.5 378.6 L130.5 377.4 L129.6 376.2 L128.7 375.0 L127.8 373.8 L126.9 372.5 L126.0 371.3 L125.2 370.0 L124.3 368.8 L123.5 367.5 L122.7 366.2 L121.9 364.9 L121.1 363.6 L120.4 362.3 L119.6 361.0 L118.9 359.6 L118.1 358.3 L117.4 357.0 L116.7 355.7 L116.0 354.3 L115.3 353.0 L114.7 351.6 L114.0 350.3 L113.4 348.9 L112.7 347.5 L112.1 346.2 L111.5 344.8 L110.9 343.4 L110.3 342.0 L109.7 340.7 L109.1 339.3 L108.5 337.9 L107.9 336.5 L107.4 335.1 L106.8 333.7 L106.3 332.3 L105.7 330.9 L105.2 329.5 L104.7 328.1 L104.2 326.7 L103.6 325.3 L103.1 323.9 L102.6 322.5 L102.1 321.0 L101.6 319.6 L101.1 318.2 L100.6 316.8 L100.1 315.4 L99.6 314.0 L99.1 312.6 L98.6 311.2 L98.1 309.7 L97.6 308.3 L97.2 306.9 L96.7 305.5 L96.2 304.1 L95.7 302.7 L95.2 301.2 L94.7 299.8 L94.2 298.4 L93.6 296.9 L93.1 295.5 L92.5 294.0 L92.0 292.5 L91.4 291.0 L90.8 289.5 L90.1 288.1 L89.2 287.0 L88.2 286.2 L87.3 286.1 L86.5 286.9 L86.1 288.2 L85.9 289.7 L85.8 291.4 L86.0 293.0 L86.1 294.6 L86.4 296.1 L86.6 297.7 L86.8 299.2 L87.0 300.7 L87.2 302.1 L87.4 303.6 L87.6 305.1 L87.8 306.6 L88.0 308.0 L88.3 309.5 L88.5 311.0 L88.8 312.4 L89.1 313.9 L89.3 315.4 L89.6 316.9 L89.9 318.4 L90.3 319.8 L90.6 321.3 L90.9 322.8 L91.2 324.3 L91.6 325.7 L91.9 327.2 L92.3 328.7 L92.6 330.2 L93.0 331.6 L93.4 333.1 L93.8 334.6 L94.1 336.0 L94.5 337.5 L94.9 338.9 L95.3 340.4 L95.7 341.8 L96.1 343.3 L96.5 344.7 L96.9 346.2 L97.3 347.6 L97.8 349.0 L98.2 350.5 L98.7 351.9 L99.1 353.3 L99.6 354.7 L100.1 356.2 L100.6 357.6 L101.1 359.0 L101.6 360.4 L102.2 361.8 L102.7 363.2 L103.3 364.6 L103.9 366.0 L104.5 367.4 L105.1 368.8 L105.7 370.1 L106.4 371.5 L107.1 372.9 L107.8 374.2 L108.5 375.6 L109.2 376.9 L110.0 378.2 L110.8 379.5 L111.5 380.8 L112.4 382.1 L113.2 383.3 L114.1 384.6 L115.0 385.8 L115.9 387.0 L116.8 388.2 L117.8 389.3 L118.7 390.5 L119.7 391.6 L120.8 392.7 L121.8 393.7 L122.9 394.7 L124.0 395.7 L125.2 396.7 L126.3 397.7 L127.5 398.6 L128.7 399.5 L129.9 400.4 L131.1 401.2 L132.4 402.1 L133.6 402.9 L134.9 403.7 L136.2 404.4 L137.5 405.2 L138.8 405.9 L140.2 406.5 L141.5 407.2 L142.9 407.9 L144.3 408.5 L145.7 409.1 L147.1 409.6 L148.5 410.2 L149.9 410.7 L151.3 411.2 L152.8 411.7 L154.2 412.1 L155.7 412.6 L157.1 413.0 L158.6 413.4 L160.1 413.7 L161.5 414.1 L163.0 414.4 L164.5 414.7 L166.0 415.0 L167.4 415.3 L168.9 415.5 L170.4 415.7 L171.9 415.9 L173.4 416.1 L174.9 416.3 L176.4 416.5 L177.9 416.6 L179.4 416.8 L180.8 416.9 L182.3 417.0 L183.9 417.1 L185.4 417.2 L186.9 417.3 L188.4 417.4 L189.9 417.5 L191.4 417.5 L192.9 417.6 L194.4 417.7 L195.9 417.7 L197.4 417.8 L198.9 417.8 L200.4 417.9 L201.9 417.9 L203.4 418.0 L204.9 418.1 L206.5 418.1 L208.0 418.2 L209.5 418.2 L211.0 418.3 L212.5 418.4 L214.0 418.5 L215.5 418.6 L217.0 418.7" class="cd" stroke="#067f06" clip-path="url(#cl1)"/>
<path d="M217.0 405.9 L215.5 405.9 L213.9 405.9 L212.4 406.0 L210.8 406.0 L209.3 405.9 L207.8 405.9 L206.3 405.9 L204.8 405.8 L203.3 405.8 L201.8 405.7 L200.3 405.6 L198.8 405.5 L197.3 405.4 L195.8 405.3 L194.4 405.2 L192.9 405.1 L191.4 404.9 L189.9 404.8 L188.5 404.6 L187.0 404.5 L185.5 404.3 L184.0 404.1 L182.5 403.9 L181.0 403.7 L179.5 403.5 L178.0 403.3 L176.5 403.0 L175.0 402.8 L173.5 402.5 L172.0 402.3 L170.5 402.0 L169.0 401.7 L167.5 401.4 L166.0 401.0 L164.5 400.6 L163.0 400.2 L161.6 399.8 L160.1 399.4 L158.7 398.9 L157.3 398.3 L155.9 397.8 L154.5 397.2 L153.2 396.5 L151.9 395.9 L150.6 395.2 L149.3 394.4 L148.0 393.6 L146.8 392.8 L145.6 392.0 L144.4 391.1 L143.2 390.2 L142.0 389.3 L140.9 388.3 L139.8 387.3 L138.7 386.3 L137.6 385.3 L136.5 384.2 L135.5 383.1 L134.4 382.0 L133.4 380.9 L132.4 379.7 L131.5 378.6 L130.5 377.4 L129.6 376.2 L128.7 375.0 L127.7 373.8 L126.9 372.5 L126.0 371.3 L125.1 370.0 L124.3 368.7 L123.5 367.5 L122.7 366.2 L121.9 364.9 L121.1 363.6 L120.3 362.3 L119.6 360.9 L118.8 359.6 L118.1 358.3 L117.4 357.0 L116.7 355.6 L116.0 354.3 L115.3 352.9 L114.7 351.6 L114.0 350.2 L113.4 348.9 L112.7 347.5 L112.1 346.1 L111.5 344.8 L110.9 343.4 L110.3 342.0 L109.7 340.6 L109.1 339.2 L108.6 337.9 L108.0 336.5 L107.4 335.1 L106.9 333.7 L106.3 332.3 L105.8 330.9 L105.3 329.5 L104.7 328.1 L104.2 326.7 L103.7 325.3 L103.1 323.9 L102.6 322.4 L102.1 321.0 L101.6 319.6 L101.1 318.2 L100.6 316.8 L100.1 315.4 L99.5 314.0 L99.0 312.6 L98.5 311.2 L98.0 309.8 L97.5 308.3 L97.0 306.9 L96.5 305.5 L96.0 304.1 L95.5 302.6 L95.0 301.2 L94.6 299.7 L94.1 298.1 L93.7 296.5 L93.4 295.0 L92.9 293.9 L92.1 294.1 L91.1 294.9 L90.0 294.8 L89.0 293.6 L88.2 292.1 L87.6 291.5 L87.1 292.3 L86.7 294.0 L86.5 296.0 L86.4 297.8 L86.4 299.4 L86.6 300.9 L86.8 302.4 L87.1 303.8 L87.4 305.2 L87.6 306.6 L87.9 308.1 L88.2 309.5 L88.5 310.9 L88.8 312.4 L89.1 313.8 L89.4 315.3 L89.7 316.8 L90.1 318.2 L90.4 319.7 L90.7 321.2 L91.0 322.7 L91.3 324.2 L91.7 325.7 L92.0 327.1 L92.3 328.6 L92.7 330.1 L93.0 331.6 L93.4 333.1 L93.7 334.5 L94.1 336.0 L94.5 337.5 L94.8 338.9 L95.2 340.4 L95.6 341.9 L96.0 343.3 L96.4 344.8 L96.8 346.2 L97.3 347.6 L97.7 349.1 L98.2 350.5 L98.6 351.9 L99.1 353.3 L99.6 354.7 L100.1 356.2 L100.6 357.6 L101.1 359.0 L101.6 360.4 L102.2 361.8 L102.7 363.2 L103.3 364.6 L103.9 365.9 L104.5 367.3 L105.1 368.7 L105.8 370.1 L106.4 371.5 L107.1 372.8 L107.8 374.2 L108.5 375.5 L109.2 376.9 L110.0 378.2 L110.8 379.5 L111.6 380.8 L112.4 382.1 L113.2 383.3 L114.1 384.6 L115.0 385.8 L115.9 387.0 L116.8 388.2 L117.7 389.3 L118.7 390.5 L119.7 391.6 L120.8 392.6 L121.8 393.7 L122.9 394.7 L124.0 395.7 L125.1 396.7 L126.3 397.7 L127.4 398.6 L128.6 399.5 L129.8 400.4 L131.1 401.2 L132.3 402.1 L133.6 402.9 L134.9 403.7 L136.2 404.4 L137.5 405.2 L138.8 405.9 L140.2 406.5 L141.5 407.2 L142.9 407.8 L144.3 408.5 L145.7 409.1 L147.1 409.6 L148.5 410.2 L149.9 410.7 L151.3 411.2 L152.8 411.7 L154.2 412.1 L155.7 412.6 L157.1 413.0 L158.6 413.4 L160.1 413.7 L161.5 414.1 L163.0 414.4 L164.5 414.7 L166.0 415.0 L167.4 415.2 L168.9 415.5 L170.4 415.7 L171.9 415.9 L173.4 416.1 L174.9 416.3 L176.4 416.5 L177.9 416.6 L179.3 416.8 L180.8 416.9 L182.3 417.0 L183.8 417.1 L185.3 417.2 L186.8 417.3 L188.3 417.4 L189.9 417.5 L191.4 417.5 L192.9 417.6 L194.4 417.7 L195.9 417.7 L197.4 417.8 L198.9 417.8 L200.4 417.9 L201.9 417.9 L203.4 418.0 L204.9 418.1 L206.4 418.1 L208.0 418.2 L209.5 418.2 L211.0 418.3 L212.5 418.4 L214.0 418.5 L215.5 418.6 L217.0 418.7" class="cs" stroke="#067f06" clip-path="url(#cl1)"/>
<path d="M216.8 408.5 L215.5 408.5 L214.1 408.4 L212.7 408.3 L211.2 408.3 L209.8 408.3 L208.4 408.2 L206.9 408.2 L205.4 408.1 L203.9 408.1 L202.5 408.0 L201.0 407.9 L199.4 407.9 L197.9 407.8 L196.4 407.7 L194.9 407.7 L193.3 407.6 L191.8 407.5 L190.3 407.4 L188.7 407.3 L187.2 407.1 L185.6 407.0 L184.1 406.9 L182.5 406.7 L181.0 406.5 L179.4 406.4 L177.9 406.2 L176.3 406.0 L174.8 405.7 L173.2 405.5 L171.7 405.2 L170.2 405.0 L168.7 404.7 L167.2 404.4 L165.7 404.0 L164.2 403.7 L162.7 403.3 L161.2 402.9 L159.8 402.5 L158.3 402.1 L156.9 401.6 L155.5 401.1 L154.0 400.6 L152.7 400.1 L151.3 399.5 L149.9 398.9 L148.6 398.3 L147.3 397.6 L146.0 396.9 L144.7 396.2 L143.4 395.5 L142.2 394.7 L140.9 393.9 L139.7 393.1 L138.6 392.2 L137.4 391.3 L136.3 390.4 L135.2 389.4 L134.1 388.4 L133.1 387.3 L132.0 386.2 L131.0 385.1 L130.1 384.0 L129.1 382.8 L128.2 381.6 L127.3 380.4 L126.4 379.2 L125.5 377.9 L124.7 376.6 L123.9 375.3 L123.1 374.0 L122.3 372.7 L121.5 371.3 L120.7 370.0 L120.0 368.6 L119.3 367.2 L118.6 365.8 L117.9 364.4 L117.2 363.1 L116.5 361.7 L115.9 360.3 L115.2 358.9 L114.6 357.5 L114.0 356.1 L113.4 354.7 L112.8 353.4 L112.2 352.0 L111.6 350.7 L111.0 349.3 L110.4 348.0 L109.8 346.7 L109.3 345.4 L108.7 344.1 L108.1 342.7 L107.4 341.4 L106.8 340.1 L106.1 338.8 L105.4 337.4 L104.7 336.1 L103.9 334.7 L103.1 333.3 L102.2 331.9 L101.3 330.4 L100.4 329.0 L99.6 327.6 L98.9 326.2 L98.4 325.1 L97.9 324.4 L97.5 324.5 L97.2 325.3 L97.0 326.7 L96.9 328.4 L96.8 330.1 L96.9 331.8 L97.0 333.4 L97.2 335.0 L97.5 336.5 L97.7 338.0 L98.0 339.5 L98.3 341.0 L98.6 342.5 L98.9 344.0 L99.2 345.5 L99.6 346.9 L99.9 348.4 L100.3 349.9 L100.8 351.3 L101.2 352.7 L101.7 354.2 L102.2 355.6 L102.8 356.9 L103.3 358.3 L103.9 359.7 L104.6 361.0 L105.2 362.4 L105.9 363.7 L106.5 365.0 L107.2 366.4 L107.9 367.7 L108.7 369.0 L109.4 370.3 L110.2 371.6 L110.9 373.0 L111.7 374.3 L112.6 375.6 L113.4 376.8 L114.2 378.1 L115.1 379.4 L116.0 380.6 L116.9 381.9 L117.8 383.1 L118.7 384.3 L119.7 385.5 L120.6 386.7 L121.6 387.8 L122.6 389.0 L123.7 390.1 L124.7 391.2 L125.8 392.3 L126.9 393.3 L128.0 394.3 L129.1 395.3 L130.2 396.3 L131.4 397.2 L132.6 398.1 L133.8 399.0 L135.0 399.9 L136.3 400.7 L137.5 401.4 L138.8 402.2 L140.1 402.9 L141.5 403.6 L142.8 404.2 L144.2 404.9 L145.6 405.4 L147.0 406.0 L148.4 406.5 L149.8 407.0 L151.2 407.5 L152.7 408.0 L154.1 408.4 L155.6 408.9 L157.0 409.3 L158.5 409.6 L160.0 410.0 L161.5 410.3 L163.0 410.7 L164.5 411.0 L166.0 411.3 L167.5 411.6 L169.0 411.8 L170.5 412.1 L172.0 412.3 L173.5 412.6 L174.9 412.8 L176.4 413.0 L177.9 413.2 L179.4 413.4 L180.9 413.6 L182.4 413.8 L183.9 414.0 L185.4 414.2 L186.8 414.3 L188.3 414.5 L189.8 414.6 L191.3 414.7 L192.8 414.9 L194.3 415.0 L195.8 415.1 L197.3 415.2 L198.8 415.3 L200.3 415.3 L201.8 415.4 L203.3 415.5 L204.8 415.5 L206.3 415.6 L207.8 415.6 L209.4 415.7 L210.9 415.7 L212.4 415.7 L213.9 415.7 L215.5 415.7 L217.0 415.7" class="cd" stroke="#3558cf" clip-path="url(#cl1)"/>
<path d="M216.8 408.5 L215.5 408.5 L214.1 408.4 L212.7 408.3 L211.2 408.3 L209.8 408.3 L208.4 408.2 L206.9 408.2 L205.4 408.1 L203.9 408.1 L202.5 408.0 L201.0 407.9 L199.4 407.9 L197.9 407.8 L196.4 407.7 L194.9 407.7 L193.3 407.6 L191.8 407.5 L190.3 407.4 L188.7 407.3 L187.2 407.1 L185.6 407.0 L184.1 406.9 L182.5 406.7 L181.0 406.5 L179.4 406.4 L177.9 406.2 L176.3 406.0 L174.8 405.7 L173.2 405.5 L171.7 405.2 L170.2 405.0 L168.7 404.7 L167.2 404.4 L165.7 404.0 L164.2 403.7 L162.7 403.3 L161.2 402.9 L159.8 402.5 L158.3 402.1 L156.9 401.6 L155.5 401.1 L154.0 400.6 L152.7 400.1 L151.3 399.5 L149.9 398.9 L148.6 398.3 L147.3 397.6 L146.0 396.9 L144.7 396.2 L143.4 395.5 L142.2 394.7 L140.9 393.9 L139.7 393.1 L138.6 392.2 L137.4 391.3 L136.3 390.4 L135.2 389.4 L134.1 388.4 L133.1 387.3 L132.0 386.2 L131.0 385.1 L130.1 384.0 L129.1 382.8 L128.2 381.6 L127.3 380.4 L126.4 379.2 L125.5 377.9 L124.7 376.6 L123.9 375.3 L123.1 374.0 L122.3 372.7 L121.5 371.3 L120.7 370.0 L120.0 368.6 L119.3 367.2 L118.6 365.8 L117.9 364.4 L117.2 363.1 L116.5 361.7 L115.9 360.3 L115.2 358.9 L114.6 357.5 L114.0 356.1 L113.4 354.7 L112.8 353.4 L112.2 352.0 L111.6 350.7 L111.0 349.3 L110.4 348.0 L109.8 346.7 L109.3 345.4 L108.7 344.1 L108.1 342.7 L107.4 341.4 L106.8 340.1 L106.1 338.8 L105.4 337.4 L104.7 336.1 L103.9 334.7 L103.1 333.3 L102.2 331.9 L101.3 330.4 L100.4 329.0 L99.6 327.6 L98.9 326.2 L98.4 325.1 L97.9 324.4 L97.5 324.5 L97.2 325.3 L97.0 326.7 L96.9 328.4 L96.8 330.1 L96.9 331.8 L97.0 333.4 L97.2 335.0 L97.5 336.5 L97.7 338.0 L98.0 339.5 L98.3 341.0 L98.6 342.5 L98.9 344.0 L99.2 345.5 L99.6 346.9 L99.9 348.4 L100.3 349.9 L100.8 351.3 L101.2 352.7 L101.7 354.2 L102.2 355.6 L102.8 356.9 L103.3 358.3 L103.9 359.7 L104.6 361.0 L105.2 362.4 L105.9 363.7 L106.5 365.0 L107.2 366.4 L107.9 367.7 L108.7 369.0 L109.4 370.3 L110.2 371.6 L110.9 373.0 L111.7 374.3 L112.6 375.6 L113.4 376.8 L114.2 378.1 L115.1 379.4 L116.0 380.6 L116.9 381.9 L117.8 383.1 L118.7 384.3 L119.7 385.5 L120.6 386.7 L121.6 387.8 L122.6 389.0 L123.7 390.1 L124.7 391.2 L125.8 392.3 L126.9 393.3 L128.0 394.3 L129.1 395.3 L130.2 396.3 L131.4 397.2 L132.6 398.1 L133.8 399.0 L135.0 399.9 L136.3 400.7 L137.5 401.4 L138.8 402.2 L140.1 402.9 L141.5 403.6 L142.8 404.2 L144.2 404.9 L145.6 405.4 L147.0 406.0 L148.4 406.5 L149.8 407.0 L151.2 407.5 L152.7 408.0 L154.1 408.4 L155.6 408.9 L157.0 409.3 L158.5 409.6 L160.0 410.0 L161.5 410.3 L163.0 410.7 L164.5 411.0 L166.0 411.3 L167.5 411.6 L169.0 411.8 L170.5 412.1 L172.0 412.3 L173.5 412.6 L174.9 412.8 L176.4 413.0 L177.9 413.2 L179.4 413.4 L180.9 413.6 L182.4 413.8 L183.9 414.0 L185.4 414.2 L186.8 414.3 L188.3 414.5 L189.8 414.6 L191.3 414.7 L192.8 414.9 L194.3 415.0 L195.8 415.1 L197.3 415.2 L198.8 415.3 L200.3 415.3 L201.8 415.4 L203.3 415.5 L204.8 415.5 L206.3 415.6 L207.8 415.6 L209.4 415.7 L210.9 415.7 L212.4 415.7 L213.9 415.7 L215.5 415.7 L217.0 415.7" class="cs" stroke="#3558cf" clip-path="url(#cl1)"/>
<path d="M216.0 404.2 L217.5 404.2 L219.0 404.2 L220.5 404.3 L222.0 404.3 L223.5 404.3 L225.0 404.3 L226.5 404.3 L228.0 404.2 L229.5 404.2 L231.0 404.2 L232.5 404.2 L234.1 404.1 L235.6 404.1 L237.1 404.0 L238.6 404.0 L240.1 403.9 L241.6 403.8 L243.1 403.7 L244.6 403.7 L246.1 403.6 L247.6 403.5 L249.2 403.4 L250.7 403.3 L252.2 403.2 L253.7 403.1 L255.2 403.0 L256.7 402.9 L258.2 402.8 L259.7 402.7 L261.3 402.6 L262.8 402.5 L264.3 402.4 L265.8 402.3 L267.3 402.2 L268.8 402.1 L270.3 402.0 L271.8 401.9 L273.3 401.7 L274.8 401.6 L276.4 401.5 L277.9 401.4 L279.4 401.3 L280.9 401.2 L282.4 401.1 L283.9 401.0 L285.4 400.9 L286.9 400.8 L288.4 400.7 L289.9 400.6 L291.4 400.5 L292.8 400.5 L294.3 400.4 L295.8 400.3 L297.3 400.2 L298.8 400.2 L300.3 400.1 L301.8 400.0 L303.3 400.0 L304.8 399.9 L306.3 399.8 L307.7 399.8 L309.2 399.7 L310.7 399.7 L312.2 399.6 L313.7 399.6 L315.2 399.6 L316.7 399.5 L318.2 399.5 L319.7 399.4 L321.2 399.4 L322.8 399.4 L324.3 399.3 L325.8 399.3 L327.3 399.3 L328.9 399.3 L330.4 399.2 L331.9 399.2 L333.5 399.2 L335.0 399.2 L336.6 399.1 L338.1 399.1 L339.7 399.1 L341.3 399.1 L342.9 399.1 L344.4 399.0 L346.0 399.1 L347.6 399.1 L349.1 399.2 L350.6 399.3 L352.1 399.5 L353.5 399.7 L354.9 400.0 L356.3 400.5 L357.6 400.9 L358.8 401.5 L359.8 402.2 L360.2 402.9 L359.7 403.5 L358.5 404.1 L357.1 404.7 L355.5 405.1 L354.0 405.6 L352.4 406.0 L350.9 406.3 L349.3 406.7 L347.8 407.0 L346.2 407.4 L344.7 407.7 L343.2 408.0 L341.7 408.3 L340.2 408.6 L338.8 409.0 L337.3 409.3 L335.8 409.5 L334.3 409.8 L332.9 410.1 L331.4 410.4 L329.9 410.7 L328.5 410.9 L327.0 411.2 L325.5 411.4 L324.1 411.7 L322.6 411.9 L321.1 412.2 L319.6 412.4 L318.1 412.6 L316.7 412.8 L315.2 413.1 L313.7 413.3 L312.2 413.5 L310.7 413.7 L309.2 413.9 L307.7 414.1 L306.2 414.2 L304.7 414.4 L303.2 414.6 L301.7 414.8 L300.2 415.0 L298.7 415.2 L297.2 415.3 L295.7 415.5 L294.2 415.7 L292.7 415.8 L291.2 416.0 L289.7 416.2 L288.2 416.3 L286.7 416.5 L285.2 416.6 L283.7 416.8 L282.2 417.0 L280.6 417.1 L279.1 417.3 L277.6 417.4 L276.1 417.6 L274.6 417.7 L273.1 417.9 L271.6 418.0 L270.1 418.1 L268.6 418.3 L267.2 418.4 L265.7 418.5 L264.2 418.7 L262.7 418.8 L261.2 418.9 L259.7 419.1 L258.2 419.2 L256.7 419.3 L255.2 419.4 L253.7 419.5 L252.2 419.7 L250.7 419.8 L249.2 419.9 L247.6 420.0 L246.1 420.1 L244.6 420.2 L243.1 420.3 L241.6 420.4 L240.1 420.5 L238.6 420.5 L237.1 420.6 L235.6 420.7 L234.1 420.8 L232.6 420.9 L231.1 420.9 L229.6 421.0 L228.1 421.1 L226.6 421.1 L225.1 421.2 L223.6 421.2 L222.0 421.3 L220.5 421.3 L219.0 421.4 L217.5 421.4 L216.0 421.5" class="cd" stroke="#c85a5a" clip-path="url(#cr1)"/>
<path d="M216.0 406.7 L217.5 406.6 L219.0 406.6 L220.6 406.5 L222.1 406.5 L223.6 406.5 L225.1 406.4 L226.7 406.4 L228.2 406.4 L229.7 406.3 L231.2 406.3 L232.8 406.3 L234.3 406.2 L235.8 406.2 L237.3 406.2 L238.8 406.2 L240.4 406.1 L241.9 406.1 L243.4 406.1 L244.9 406.1 L246.4 406.0 L247.9 406.0 L249.5 406.0 L251.0 405.9 L252.5 405.9 L254.0 405.9 L255.5 405.8 L257.0 405.8 L258.6 405.7 L260.1 405.7 L261.6 405.6 L263.1 405.6 L264.6 405.5 L266.2 405.4 L267.7 405.4 L269.2 405.3 L270.7 405.2 L272.2 405.1 L273.8 405.0 L275.3 404.9 L276.8 404.8 L278.3 404.7 L279.8 404.6 L281.4 404.5 L282.9 404.4 L284.4 404.3 L286.0 404.2 L287.5 404.1 L289.0 404.0 L290.5 404.0 L292.1 403.9 L293.6 403.9 L295.1 403.8 L296.7 403.8 L298.2 403.8 L299.7 403.8 L301.3 403.9 L302.8 403.9 L304.4 404.0 L305.9 404.1 L307.4 404.3 L309.0 404.4 L310.5 404.6 L312.1 404.9 L313.6 405.2 L314.9 405.5 L315.6 405.9 L315.2 406.4 L314.2 406.9 L312.7 407.4 L311.3 407.9 L309.8 408.4 L308.3 408.8 L306.8 409.2 L305.4 409.5 L303.8 409.8 L302.3 410.1 L300.8 410.4 L299.3 410.7 L297.8 410.9 L296.2 411.1 L294.7 411.3 L293.2 411.5 L291.6 411.7 L290.1 411.9 L288.6 412.1 L287.0 412.3 L285.5 412.5 L284.0 412.7 L282.5 412.9 L281.0 413.1 L279.5 413.3 L278.0 413.5 L276.5 413.8 L275.0 414.0 L273.5 414.2 L272.0 414.4 L270.5 414.7 L269.0 414.9 L267.5 415.1 L266.0 415.4 L264.5 415.6 L263.0 415.8 L261.5 416.0 L260.0 416.2 L258.5 416.4 L257.0 416.6 L255.5 416.8 L254.0 417.0 L252.5 417.2 L251.0 417.3 L249.5 417.5 L248.0 417.6 L246.4 417.7 L244.9 417.9 L243.4 418.0 L241.9 418.1 L240.3 418.2 L238.8 418.3 L237.3 418.4 L235.8 418.5 L234.2 418.5 L232.7 418.6 L231.2 418.7 L229.7 418.7 L228.1 418.7 L226.6 418.8 L225.1 418.8 L223.6 418.8 L222.1 418.8 L220.5 418.8 L219.0 418.8 L217.5 418.8 L216.0 418.8" class="cd" stroke="#067f06" clip-path="url(#cr1)"/>
<path d="M216.0 406.6 L217.5 406.6 L219.0 406.6 L220.5 406.6 L222.0 406.5 L223.5 406.5 L225.0 406.5 L226.6 406.5 L228.1 406.5 L229.6 406.4 L231.1 406.4 L232.6 406.4 L234.2 406.3 L235.7 406.3 L237.2 406.3 L238.7 406.2 L240.3 406.2 L241.8 406.2 L243.3 406.1 L244.9 406.1 L246.4 406.0 L247.9 406.0 L249.4 405.9 L251.0 405.9 L252.5 405.8 L254.0 405.8 L255.6 405.7 L257.1 405.6 L258.6 405.6 L260.1 405.5 L261.7 405.5 L263.2 405.4 L264.7 405.3 L266.2 405.3 L267.7 405.2 L269.3 405.1 L270.8 405.0 L272.3 405.0 L273.8 404.9 L275.3 404.8 L276.8 404.7 L278.3 404.7 L279.8 404.6 L281.3 404.5 L282.7 404.4 L284.2 404.3 L285.7 404.3 L287.2 404.2 L288.7 404.1 L290.2 404.0 L291.7 404.0 L293.2 403.9 L294.7 403.9 L296.2 403.8 L297.8 403.8 L299.3 403.8 L300.8 403.8 L302.4 403.8 L303.9 403.8 L305.5 403.8 L307.1 403.8 L308.7 403.9 L310.3 403.9 L311.9 404.0 L313.5 404.1 L315.2 404.2 L316.8 404.4 L318.2 404.6 L319.2 405.1 L319.8 405.7 L319.6 406.4 L318.8 407.1 L317.6 407.7 L316.1 408.1 L314.3 408.4 L312.6 408.6 L310.9 408.8 L309.2 409.0 L307.6 409.2 L306.1 409.4 L304.6 409.6 L303.2 409.8 L301.7 410.0 L300.3 410.2 L298.9 410.5 L297.4 410.7 L296.0 410.9 L294.5 411.1 L293.1 411.4 L291.6 411.6 L290.1 411.8 L288.6 412.0 L287.2 412.3 L285.7 412.5 L284.2 412.7 L282.7 413.0 L281.1 413.2 L279.6 413.4 L278.1 413.7 L276.6 413.9 L275.1 414.1 L273.6 414.4 L272.0 414.6 L270.5 414.8 L269.0 415.0 L267.5 415.2 L266.0 415.4 L264.4 415.6 L262.9 415.8 L261.4 416.0 L259.9 416.2 L258.4 416.4 L256.9 416.6 L255.4 416.8 L253.9 416.9 L252.4 417.1 L250.9 417.3 L249.3 417.4 L247.8 417.6 L246.3 417.7 L244.8 417.8 L243.3 418.0 L241.8 418.1 L240.3 418.2 L238.8 418.3 L237.3 418.4 L235.8 418.5 L234.3 418.6 L232.8 418.6 L231.2 418.7 L229.7 418.7 L228.2 418.8 L226.7 418.8 L225.2 418.8 L223.6 418.9 L222.1 418.9 L220.6 418.9 L219.0 418.8 L217.5 418.8 L216.0 418.8" class="cs" stroke="#067f06" clip-path="url(#cr1)"/>
<path d="M216.0 409.2 L217.5 409.2 L219.1 409.2 L220.6 409.2 L222.1 409.1 L223.6 409.1 L225.2 409.1 L226.7 409.1 L228.2 409.0 L229.7 409.0 L231.2 409.0 L232.8 409.0 L234.3 408.9 L235.8 408.9 L237.3 408.8 L238.8 408.8 L240.3 408.8 L241.8 408.7 L243.3 408.6 L244.8 408.6 L246.4 408.5 L247.9 408.5 L249.4 408.4 L250.9 408.3 L252.4 408.2 L253.9 408.2 L255.5 408.1 L257.0 408.0 L258.5 407.9 L260.0 407.8 L261.6 407.7 L263.1 407.5 L264.6 407.4 L266.2 407.3 L267.7 407.2 L269.3 407.2 L270.8 407.1 L272.4 407.1 L273.9 407.1 L275.5 407.2 L277.0 407.3 L278.5 407.4 L280.1 407.6 L281.6 407.8 L283.1 408.1 L284.2 408.5 L284.7 409.0 L284.2 409.5 L283.0 410.1 L281.6 410.6 L280.1 411.0 L278.5 411.3 L276.9 411.6 L275.3 411.8 L273.7 412.0 L272.1 412.2 L270.5 412.3 L268.9 412.5 L267.4 412.7 L265.9 412.9 L264.3 413.0 L262.8 413.2 L261.3 413.4 L259.8 413.6 L258.4 413.8 L256.9 414.0 L255.4 414.1 L253.9 414.3 L252.4 414.5 L251.0 414.6 L249.5 414.8 L248.0 414.9 L246.5 415.1 L245.0 415.2 L243.4 415.3 L241.9 415.4 L240.4 415.6 L238.9 415.7 L237.3 415.7 L235.8 415.8 L234.3 415.9 L232.7 416.0 L231.2 416.0 L229.6 416.1 L228.1 416.1 L226.6 416.2 L225.0 416.2 L223.5 416.3 L222.0 416.3 L220.5 416.3 L219.0 416.3 L217.5 416.3 L216.0 416.3" class="cd" stroke="#3558cf" clip-path="url(#cr1)"/>
<path d="M216.0 409.2 L217.5 409.2 L219.1 409.2 L220.6 409.2 L222.1 409.1 L223.6 409.1 L225.2 409.1 L226.7 409.1 L228.2 409.0 L229.7 409.0 L231.2 409.0 L232.8 409.0 L234.3 408.9 L235.8 408.9 L237.3 408.8 L238.8 408.8 L240.3 408.8 L241.8 408.7 L243.3 408.6 L244.8 408.6 L246.4 408.5 L247.9 408.5 L249.4 408.4 L250.9 408.3 L252.4 408.2 L253.9 408.2 L255.5 408.1 L257.0 408.0 L258.5 407.9 L260.0 407.8 L261.6 407.7 L263.1 407.5 L264.6 407.4 L266.2 407.3 L267.7 407.2 L269.3 407.2 L270.8 407.1 L272.4 407.1 L273.9 407.1 L275.5 407.2 L277.0 407.3 L278.5 407.4 L280.1 407.6 L281.6 407.8 L283.1 408.1 L284.2 408.5 L284.7 409.0 L284.2 409.5 L283.0 410.1 L281.6 410.6 L280.1 411.0 L278.5 411.3 L276.9 411.6 L275.3 411.8 L273.7 412.0 L272.1 412.2 L270.5 412.3 L268.9 412.5 L267.4 412.7 L265.9 412.9 L264.3 413.0 L262.8 413.2 L261.3 413.4 L259.8 413.6 L258.4 413.8 L256.9 414.0 L255.4 414.1 L253.9 414.3 L252.4 414.5 L251.0 414.6 L249.5 414.8 L248.0 414.9 L246.5 415.1 L245.0 415.2 L243.4 415.3 L241.9 415.4 L240.4 415.6 L238.9 415.7 L237.3 415.7 L235.8 415.8 L234.3 415.9 L232.7 416.0 L231.2 416.0 L229.6 416.1 L228.1 416.1 L226.6 416.2 L225.0 416.2 L223.5 416.3 L222.0 416.3 L220.5 416.3 L219.0 416.3 L217.5 416.3 L216.0 416.3" class="cs" stroke="#3558cf" clip-path="url(#cr1)"/>
<path d="M78.7 437.0 L78.9 438.5 L79.0 440.0 L79.2 441.5 L79.4 443.1 L79.5 444.6 L79.7 446.1 L79.9 447.6 L80.0 449.1 L80.2 450.6 L80.4 452.1 L80.6 453.6 L80.8 455.1 L81.0 456.6 L81.2 458.1 L81.4 459.6 L81.6 461.1 L81.8 462.6 L82.0 464.1 L82.2 465.6 L82.5 467.1 L82.7 468.6 L82.9 470.1 L83.1 471.5 L83.4 473.0 L83.6 474.5 L83.9 476.0 L84.1 477.5 L84.4 479.0 L84.6 480.4 L84.9 481.9 L85.1 483.4 L85.4 484.9 L85.7 486.4 L85.9 487.9 L86.2 489.3 L86.5 490.8 L86.8 492.3 L87.0 493.8 L87.3 495.3 L87.6 496.8 L87.9 498.2 L88.2 499.7 L88.5 501.2 L88.8 502.7 L89.1 504.2 L89.4 505.7 L89.7 507.2 L90.0 508.7 L90.3 510.2 L90.6 511.7 L91.0 513.2 L91.3 514.7 L91.6 516.1 L92.0 517.6 L92.4 519.1 L92.8 520.6 L93.2 522.0 L93.7 523.5 L94.1 524.9 L94.6 526.4 L95.2 527.8 L95.8 529.2 L96.4 530.5 L97.0 531.9 L97.7 533.2 L98.5 534.6 L99.3 535.9 L100.1 537.1 L101.0 538.4 L102.0 539.6 L103.0 540.8 L104.1 541.9 L105.2 542.9 L106.3 543.9 L107.6 544.8 L108.8 545.6 L110.1 546.3 L111.5 546.8 L112.8 547.2 L114.2 547.5 L115.6 547.7 L117.0 547.8 L118.5 547.8 L119.9 547.7 L121.3 547.5 L122.8 547.3 L124.2 547.0 L125.6 546.6 L127.1 546.2 L128.5 545.7 L130.0 545.2 L131.5 544.6 L132.9 544.1 L134.4 543.5 L135.8 542.9 L137.3 542.3 L138.8 541.8 L140.3 541.2 L141.7 540.7 L143.2 540.2 L144.7 539.7 L146.2 539.3 L147.7 538.9 L149.1 538.6 L150.6 538.3 L152.1 538.1 L153.6 538.0 L155.1 538.0 L156.5 537.9 L158.0 538.0 L159.5 538.0 L161.0 538.1 L162.5 538.3 L164.0 538.4 L165.5 538.6 L166.9 538.9 L168.4 539.1 L169.9 539.4 L171.4 539.6 L172.9 539.9 L174.4 540.2 L175.9 540.5 L177.4 540.8 L178.9 541.0 L180.4 541.3 L181.9 541.6 L183.4 541.8 L184.9 542.0 L186.4 542.2 L187.9 542.4 L189.4 542.6 L190.9 542.8 L192.4 543.0 L193.9 543.1 L195.4 543.3 L197.0 543.4 L198.5 543.6 L200.0 543.7 L201.5 543.8 L203.0 544.0 L204.5 544.1 L206.0 544.3 L207.5 544.4 L209.0 544.6 L210.5 544.7 L212.0 544.9 L213.5 545.1 L215.0 545.2 L216.5 545.4 L218.0 545.6" class="cs" stroke="#3558cf" clip-path="url(#cl2)"/>
<path d="M216.9 548.2 L218.4 548.2 L220.0 548.1 L221.5 548.1 L223.0 548.0 L224.5 547.9 L226.1 547.7 L227.6 547.6 L229.1 547.4 L230.6 547.2 L232.1 547.0 L233.6 546.8 L235.2 546.6 L236.7 546.3 L238.1 546.0 L239.6 545.7 L241.1 545.3 L242.6 545.0 L244.1 544.6 L245.5 544.2 L247.0 543.8 L248.4 543.3 L249.9 542.8 L251.3 542.4 L252.7 541.8 L254.1 541.3 L255.5 540.8 L256.9 540.2 L258.3 539.6 L259.7 539.0 L261.0 538.3 L262.4 537.7 L263.7 537.0 L265.0 536.3 L266.3 535.6 L267.7 534.8 L269.0 534.1 L270.2 533.3 L271.5 532.5 L272.8 531.7 L274.0 530.9 L275.3 530.0 L276.5 529.2 L277.7 528.3 L278.9 527.4 L280.1 526.5 L281.3 525.6 L282.5 524.6 L283.7 523.7 L284.8 522.7 L286.0 521.7 L287.1 520.8 L288.3 519.8 L289.4 518.7 L290.5 517.7 L291.6 516.7 L292.7 515.6 L293.7 514.6 L294.8 513.5 L295.9 512.4 L296.9 511.4 L298.0 510.3 L299.0 509.2 L300.0 508.0 L301.0 506.9 L302.1 505.8 L303.1 504.7 L304.1 503.5 L305.1 502.4 L306.1 501.2 L307.1 500.1 L308.0 498.9 L309.0 497.8 L310.0 496.6 L311.0 495.4 L311.9 494.2 L312.9 493.1 L313.9 491.9 L314.8 490.7 L315.8 489.5 L316.7 488.4 L317.7 487.2 L318.7 486.0 L319.6 484.8 L320.6 483.6 L321.5 482.4 L322.5 481.3 L323.4 480.1 L324.4 478.9 L325.4 477.7 L326.3 476.6 L327.3 475.4 L328.2 474.2 L329.2 473.1 L330.2 471.9 L331.1 470.7 L332.1 469.6 L333.1 468.4 L334.0 467.3 L335.0 466.1 L335.9 464.9 L336.9 463.8 L337.8 462.6 L338.8 461.4 L339.8 460.3 L340.7 459.1 L341.7 457.9 L342.6 456.8 L343.6 455.6 L344.5 454.4 L345.4 453.3 L346.4 452.1 L347.3 450.9 L348.3 449.7 L349.2 448.5 L350.1 447.3 L351.0 446.1 L352.0 444.9 L352.9 443.7 L353.8 442.5 L354.7 441.3 L355.6 440.1" class="cs" stroke="#3558cf" clip-path="url(#cr2)"/>
<line x1="48.30" y1="215.86" x2="50.50" y2="215.86" stroke="#111" stroke-width="0.90"/>
<line x1="386.90" y1="215.86" x2="384.70" y2="215.86" stroke="#111" stroke-width="0.90"/>
<line x1="48.30" y1="206.48" x2="50.50" y2="206.48" stroke="#111" stroke-width="0.90"/>
<line x1="386.90" y1="206.48" x2="384.70" y2="206.48" stroke="#111" stroke-width="0.90"/>
<line x1="48.30" y1="197.10" x2="50.50" y2="197.10" stroke="#111" stroke-width="0.90"/>
<line x1="386.90" y1="197.10" x2="384.70" y2="197.10" stroke="#111" stroke-width="0.90"/>
<line x1="48.30" y1="187.72" x2="50.50" y2="187.72" stroke="#111" stroke-width="0.90"/>
<line x1="386.90" y1="187.72" x2="384.70" y2="187.72" stroke="#111" stroke-width="0.90"/>
<line x1="48.30" y1="178.34" x2="50.50" y2="178.34" stroke="#111" stroke-width="0.90"/>
<line x1="386.90" y1="178.34" x2="384.70" y2="178.34" stroke="#111" stroke-width="0.90"/>
<line x1="48.30" y1="168.96" x2="50.50" y2="168.96" stroke="#111" stroke-width="0.90"/>
<line x1="386.90" y1="168.96" x2="384.70" y2="168.96" stroke="#111" stroke-width="0.90"/>
<line x1="48.30" y1="159.58" x2="50.50" y2="159.58" stroke="#111" stroke-width="0.90"/>
<line x1="386.90" y1="159.58" x2="384.70" y2="159.58" stroke="#111" stroke-width="0.90"/>
<line x1="48.30" y1="150.20" x2="50.50" y2="150.20" stroke="#111" stroke-width="0.90"/>
<line x1="386.90" y1="150.20" x2="384.70" y2="150.20" stroke="#111" stroke-width="0.90"/>
<line x1="48.30" y1="140.82" x2="50.50" y2="140.82" stroke="#111" stroke-width="0.90"/>
<line x1="386.90" y1="140.82" x2="384.70" y2="140.82" stroke="#111" stroke-width="0.90"/>
<line x1="48.30" y1="131.44" x2="50.50" y2="131.44" stroke="#111" stroke-width="0.90"/>
<line x1="386.90" y1="131.44" x2="384.70" y2="131.44" stroke="#111" stroke-width="0.90"/>
<line x1="48.30" y1="122.06" x2="50.50" y2="122.06" stroke="#111" stroke-width="0.90"/>
<line x1="386.90" y1="122.06" x2="384.70" y2="122.06" stroke="#111" stroke-width="0.90"/>
<line x1="48.30" y1="112.68" x2="50.50" y2="112.68" stroke="#111" stroke-width="0.90"/>
<line x1="386.90" y1="112.68" x2="384.70" y2="112.68" stroke="#111" stroke-width="0.90"/>
<line x1="48.30" y1="103.30" x2="50.50" y2="103.30" stroke="#111" stroke-width="0.90"/>
<line x1="386.90" y1="103.30" x2="384.70" y2="103.30" stroke="#111" stroke-width="0.90"/>
<line x1="48.30" y1="93.92" x2="50.50" y2="93.92" stroke="#111" stroke-width="0.90"/>
<line x1="386.90" y1="93.92" x2="384.70" y2="93.92" stroke="#111" stroke-width="0.90"/>
<line x1="48.30" y1="84.54" x2="50.50" y2="84.54" stroke="#111" stroke-width="0.90"/>
<line x1="386.90" y1="84.54" x2="384.70" y2="84.54" stroke="#111" stroke-width="0.90"/>
<line x1="48.30" y1="75.16" x2="50.50" y2="75.16" stroke="#111" stroke-width="0.90"/>
<line x1="386.90" y1="75.16" x2="384.70" y2="75.16" stroke="#111" stroke-width="0.90"/>
<line x1="48.30" y1="65.78" x2="50.50" y2="65.78" stroke="#111" stroke-width="0.90"/>
<line x1="386.90" y1="65.78" x2="384.70" y2="65.78" stroke="#111" stroke-width="0.90"/>
<line x1="48.30" y1="56.40" x2="50.50" y2="56.40" stroke="#111" stroke-width="0.90"/>
<line x1="386.90" y1="56.40" x2="384.70" y2="56.40" stroke="#111" stroke-width="0.90"/>
<line x1="48.30" y1="47.02" x2="50.50" y2="47.02" stroke="#111" stroke-width="0.90"/>
<line x1="386.90" y1="47.02" x2="384.70" y2="47.02" stroke="#111" stroke-width="0.90"/>
<line x1="48.30" y1="37.64" x2="50.50" y2="37.64" stroke="#111" stroke-width="0.90"/>
<line x1="386.90" y1="37.64" x2="384.70" y2="37.64" stroke="#111" stroke-width="0.90"/>
<line x1="48.30" y1="28.26" x2="50.50" y2="28.26" stroke="#111" stroke-width="0.90"/>
<line x1="386.90" y1="28.26" x2="384.70" y2="28.26" stroke="#111" stroke-width="0.90"/>
<line x1="48.30" y1="18.88" x2="50.50" y2="18.88" stroke="#111" stroke-width="0.90"/>
<line x1="386.90" y1="18.88" x2="384.70" y2="18.88" stroke="#111" stroke-width="0.90"/>
<line x1="48.30" y1="197.10" x2="52.30" y2="197.10" stroke="#111" stroke-width="1.00"/>
<line x1="386.90" y1="197.10" x2="382.90" y2="197.10" stroke="#111" stroke-width="1.00"/>
<line x1="48.30" y1="150.20" x2="52.30" y2="150.20" stroke="#111" stroke-width="1.00"/>
<line x1="386.90" y1="150.20" x2="382.90" y2="150.20" stroke="#111" stroke-width="1.00"/>
<line x1="48.30" y1="103.30" x2="52.30" y2="103.30" stroke="#111" stroke-width="1.00"/>
<line x1="386.90" y1="103.30" x2="382.90" y2="103.30" stroke="#111" stroke-width="1.00"/>
<line x1="48.30" y1="56.40" x2="52.30" y2="56.40" stroke="#111" stroke-width="1.00"/>
<line x1="386.90" y1="56.40" x2="382.90" y2="56.40" stroke="#111" stroke-width="1.00"/>
<line x1="48.30" y1="9.50" x2="52.30" y2="9.50" stroke="#111" stroke-width="1.00"/>
<line x1="386.90" y1="9.50" x2="382.90" y2="9.50" stroke="#111" stroke-width="1.00"/>
<line x1="48.30" y1="9.50" x2="48.30" y2="13.50" stroke="#111" stroke-width="0.90"/>
<line x1="48.30" y1="225.20" x2="48.30" y2="221.20" stroke="#111" stroke-width="0.90"/>
<line x1="82.38" y1="9.50" x2="82.38" y2="11.70" stroke="#111" stroke-width="0.90"/>
<line x1="82.38" y1="225.20" x2="82.38" y2="223.00" stroke="#111" stroke-width="0.90"/>
<line x1="102.31" y1="9.50" x2="102.31" y2="11.70" stroke="#111" stroke-width="0.90"/>
<line x1="102.31" y1="225.20" x2="102.31" y2="223.00" stroke="#111" stroke-width="0.90"/>
<line x1="116.45" y1="9.50" x2="116.45" y2="11.70" stroke="#111" stroke-width="0.90"/>
<line x1="116.45" y1="225.20" x2="116.45" y2="223.00" stroke="#111" stroke-width="0.90"/>
<line x1="127.42" y1="9.50" x2="127.42" y2="11.70" stroke="#111" stroke-width="0.90"/>
<line x1="127.42" y1="225.20" x2="127.42" y2="223.00" stroke="#111" stroke-width="0.90"/>
<line x1="136.39" y1="9.50" x2="136.39" y2="11.70" stroke="#111" stroke-width="0.90"/>
<line x1="136.39" y1="225.20" x2="136.39" y2="223.00" stroke="#111" stroke-width="0.90"/>
<line x1="143.97" y1="9.50" x2="143.97" y2="11.70" stroke="#111" stroke-width="0.90"/>
<line x1="143.97" y1="225.20" x2="143.97" y2="223.00" stroke="#111" stroke-width="0.90"/>
<line x1="150.53" y1="9.50" x2="150.53" y2="11.70" stroke="#111" stroke-width="0.90"/>
<line x1="150.53" y1="225.20" x2="150.53" y2="223.00" stroke="#111" stroke-width="0.90"/>
<line x1="156.32" y1="9.50" x2="156.32" y2="11.70" stroke="#111" stroke-width="0.90"/>
<line x1="156.32" y1="225.20" x2="156.32" y2="223.00" stroke="#111" stroke-width="0.90"/>
<line x1="161.50" y1="9.50" x2="161.50" y2="13.50" stroke="#111" stroke-width="0.90"/>
<line x1="161.50" y1="225.20" x2="161.50" y2="221.20" stroke="#111" stroke-width="0.90"/>
<line x1="195.58" y1="9.50" x2="195.58" y2="11.70" stroke="#111" stroke-width="0.90"/>
<line x1="195.58" y1="225.20" x2="195.58" y2="223.00" stroke="#111" stroke-width="0.90"/>
<line x1="215.51" y1="9.50" x2="215.51" y2="11.70" stroke="#111" stroke-width="0.90"/>
<line x1="215.51" y1="225.20" x2="215.51" y2="223.00" stroke="#111" stroke-width="0.90"/>
<line x1="235.96" y1="9.50" x2="235.96" y2="11.70" stroke="#111" stroke-width="0.90"/>
<line x1="235.96" y1="225.20" x2="235.96" y2="223.00" stroke="#111" stroke-width="0.90"/>
<line x1="252.73" y1="9.50" x2="252.73" y2="11.70" stroke="#111" stroke-width="0.90"/>
<line x1="252.73" y1="225.20" x2="252.73" y2="223.00" stroke="#111" stroke-width="0.90"/>
<line x1="269.50" y1="9.50" x2="269.50" y2="11.70" stroke="#111" stroke-width="0.90"/>
<line x1="269.50" y1="225.20" x2="269.50" y2="223.00" stroke="#111" stroke-width="0.90"/>
<line x1="286.26" y1="9.50" x2="286.26" y2="13.50" stroke="#111" stroke-width="0.90"/>
<line x1="286.26" y1="225.20" x2="286.26" y2="221.20" stroke="#111" stroke-width="0.90"/>
<line x1="303.02" y1="9.50" x2="303.02" y2="11.70" stroke="#111" stroke-width="0.90"/>
<line x1="303.02" y1="225.20" x2="303.02" y2="223.00" stroke="#111" stroke-width="0.90"/>
<line x1="319.79" y1="9.50" x2="319.79" y2="11.70" stroke="#111" stroke-width="0.90"/>
<line x1="319.79" y1="225.20" x2="319.79" y2="223.00" stroke="#111" stroke-width="0.90"/>
<line x1="336.56" y1="9.50" x2="336.56" y2="11.70" stroke="#111" stroke-width="0.90"/>
<line x1="336.56" y1="225.20" x2="336.56" y2="223.00" stroke="#111" stroke-width="0.90"/>
<line x1="353.32" y1="9.50" x2="353.32" y2="13.50" stroke="#111" stroke-width="0.90"/>
<line x1="353.32" y1="225.20" x2="353.32" y2="221.20" stroke="#111" stroke-width="0.90"/>
<line x1="370.09" y1="9.50" x2="370.09" y2="11.70" stroke="#111" stroke-width="0.90"/>
<line x1="370.09" y1="225.20" x2="370.09" y2="223.00" stroke="#111" stroke-width="0.90"/>
<line x1="386.85" y1="9.50" x2="386.85" y2="11.70" stroke="#111" stroke-width="0.90"/>
<line x1="386.85" y1="225.20" x2="386.85" y2="223.00" stroke="#111" stroke-width="0.90"/>
<line x1="48.30" y1="435.53" x2="50.50" y2="435.53" stroke="#111" stroke-width="0.90"/>
<line x1="386.90" y1="435.53" x2="384.70" y2="435.53" stroke="#111" stroke-width="0.90"/>
<line x1="48.30" y1="425.27" x2="50.50" y2="425.27" stroke="#111" stroke-width="0.90"/>
<line x1="386.90" y1="425.27" x2="384.70" y2="425.27" stroke="#111" stroke-width="0.90"/>
<line x1="48.30" y1="415.01" x2="50.50" y2="415.01" stroke="#111" stroke-width="0.90"/>
<line x1="386.90" y1="415.01" x2="384.70" y2="415.01" stroke="#111" stroke-width="0.90"/>
<line x1="48.30" y1="404.75" x2="50.50" y2="404.75" stroke="#111" stroke-width="0.90"/>
<line x1="386.90" y1="404.75" x2="384.70" y2="404.75" stroke="#111" stroke-width="0.90"/>
<line x1="48.30" y1="394.49" x2="50.50" y2="394.49" stroke="#111" stroke-width="0.90"/>
<line x1="386.90" y1="394.49" x2="384.70" y2="394.49" stroke="#111" stroke-width="0.90"/>
<line x1="48.30" y1="384.23" x2="50.50" y2="384.23" stroke="#111" stroke-width="0.90"/>
<line x1="386.90" y1="384.23" x2="384.70" y2="384.23" stroke="#111" stroke-width="0.90"/>
<line x1="48.30" y1="373.97" x2="50.50" y2="373.97" stroke="#111" stroke-width="0.90"/>
<line x1="386.90" y1="373.97" x2="384.70" y2="373.97" stroke="#111" stroke-width="0.90"/>
<line x1="48.30" y1="363.71" x2="50.50" y2="363.71" stroke="#111" stroke-width="0.90"/>
<line x1="386.90" y1="363.71" x2="384.70" y2="363.71" stroke="#111" stroke-width="0.90"/>
<line x1="48.30" y1="353.45" x2="50.50" y2="353.45" stroke="#111" stroke-width="0.90"/>
<line x1="386.90" y1="353.45" x2="384.70" y2="353.45" stroke="#111" stroke-width="0.90"/>
<line x1="48.30" y1="343.19" x2="50.50" y2="343.19" stroke="#111" stroke-width="0.90"/>
<line x1="386.90" y1="343.19" x2="384.70" y2="343.19" stroke="#111" stroke-width="0.90"/>
<line x1="48.30" y1="332.93" x2="50.50" y2="332.93" stroke="#111" stroke-width="0.90"/>
<line x1="386.90" y1="332.93" x2="384.70" y2="332.93" stroke="#111" stroke-width="0.90"/>
<line x1="48.30" y1="322.67" x2="50.50" y2="322.67" stroke="#111" stroke-width="0.90"/>
<line x1="386.90" y1="322.67" x2="384.70" y2="322.67" stroke="#111" stroke-width="0.90"/>
<line x1="48.30" y1="312.41" x2="50.50" y2="312.41" stroke="#111" stroke-width="0.90"/>
<line x1="386.90" y1="312.41" x2="384.70" y2="312.41" stroke="#111" stroke-width="0.90"/>
<line x1="48.30" y1="302.15" x2="50.50" y2="302.15" stroke="#111" stroke-width="0.90"/>
<line x1="386.90" y1="302.15" x2="384.70" y2="302.15" stroke="#111" stroke-width="0.90"/>
<line x1="48.30" y1="291.89" x2="50.50" y2="291.89" stroke="#111" stroke-width="0.90"/>
<line x1="386.90" y1="291.89" x2="384.70" y2="291.89" stroke="#111" stroke-width="0.90"/>
<line x1="48.30" y1="281.63" x2="50.50" y2="281.63" stroke="#111" stroke-width="0.90"/>
<line x1="386.90" y1="281.63" x2="384.70" y2="281.63" stroke="#111" stroke-width="0.90"/>
<line x1="48.30" y1="271.37" x2="50.50" y2="271.37" stroke="#111" stroke-width="0.90"/>
<line x1="386.90" y1="271.37" x2="384.70" y2="271.37" stroke="#111" stroke-width="0.90"/>
<line x1="48.30" y1="261.11" x2="50.50" y2="261.11" stroke="#111" stroke-width="0.90"/>
<line x1="386.90" y1="261.11" x2="384.70" y2="261.11" stroke="#111" stroke-width="0.90"/>
<line x1="48.30" y1="250.85" x2="50.50" y2="250.85" stroke="#111" stroke-width="0.90"/>
<line x1="386.90" y1="250.85" x2="384.70" y2="250.85" stroke="#111" stroke-width="0.90"/>
<line x1="48.30" y1="240.59" x2="50.50" y2="240.59" stroke="#111" stroke-width="0.90"/>
<line x1="386.90" y1="240.59" x2="384.70" y2="240.59" stroke="#111" stroke-width="0.90"/>
<line x1="48.30" y1="230.33" x2="50.50" y2="230.33" stroke="#111" stroke-width="0.90"/>
<line x1="386.90" y1="230.33" x2="384.70" y2="230.33" stroke="#111" stroke-width="0.90"/>
<line x1="48.30" y1="404.75" x2="52.30" y2="404.75" stroke="#111" stroke-width="1.00"/>
<line x1="386.90" y1="404.75" x2="382.90" y2="404.75" stroke="#111" stroke-width="1.00"/>
<line x1="48.30" y1="353.45" x2="52.30" y2="353.45" stroke="#111" stroke-width="1.00"/>
<line x1="386.90" y1="353.45" x2="382.90" y2="353.45" stroke="#111" stroke-width="1.00"/>
<line x1="48.30" y1="302.15" x2="52.30" y2="302.15" stroke="#111" stroke-width="1.00"/>
<line x1="386.90" y1="302.15" x2="382.90" y2="302.15" stroke="#111" stroke-width="1.00"/>
<line x1="48.30" y1="250.85" x2="52.30" y2="250.85" stroke="#111" stroke-width="1.00"/>
<line x1="386.90" y1="250.85" x2="382.90" y2="250.85" stroke="#111" stroke-width="1.00"/>
<line x1="48.30" y1="225.20" x2="48.30" y2="229.20" stroke="#111" stroke-width="0.90"/>
<line x1="48.30" y1="440.70" x2="48.30" y2="436.70" stroke="#111" stroke-width="0.90"/>
<line x1="82.38" y1="225.20" x2="82.38" y2="227.40" stroke="#111" stroke-width="0.90"/>
<line x1="82.38" y1="440.70" x2="82.38" y2="438.50" stroke="#111" stroke-width="0.90"/>
<line x1="102.31" y1="225.20" x2="102.31" y2="227.40" stroke="#111" stroke-width="0.90"/>
<line x1="102.31" y1="440.70" x2="102.31" y2="438.50" stroke="#111" stroke-width="0.90"/>
<line x1="116.45" y1="225.20" x2="116.45" y2="227.40" stroke="#111" stroke-width="0.90"/>
<line x1="116.45" y1="440.70" x2="116.45" y2="438.50" stroke="#111" stroke-width="0.90"/>
<line x1="127.42" y1="225.20" x2="127.42" y2="227.40" stroke="#111" stroke-width="0.90"/>
<line x1="127.42" y1="440.70" x2="127.42" y2="438.50" stroke="#111" stroke-width="0.90"/>
<line x1="136.39" y1="225.20" x2="136.39" y2="227.40" stroke="#111" stroke-width="0.90"/>
<line x1="136.39" y1="440.70" x2="136.39" y2="438.50" stroke="#111" stroke-width="0.90"/>
<line x1="143.97" y1="225.20" x2="143.97" y2="227.40" stroke="#111" stroke-width="0.90"/>
<line x1="143.97" y1="440.70" x2="143.97" y2="438.50" stroke="#111" stroke-width="0.90"/>
<line x1="150.53" y1="225.20" x2="150.53" y2="227.40" stroke="#111" stroke-width="0.90"/>
<line x1="150.53" y1="440.70" x2="150.53" y2="438.50" stroke="#111" stroke-width="0.90"/>
<line x1="156.32" y1="225.20" x2="156.32" y2="227.40" stroke="#111" stroke-width="0.90"/>
<line x1="156.32" y1="440.70" x2="156.32" y2="438.50" stroke="#111" stroke-width="0.90"/>
<line x1="161.50" y1="225.20" x2="161.50" y2="229.20" stroke="#111" stroke-width="0.90"/>
<line x1="161.50" y1="440.70" x2="161.50" y2="436.70" stroke="#111" stroke-width="0.90"/>
<line x1="195.58" y1="225.20" x2="195.58" y2="227.40" stroke="#111" stroke-width="0.90"/>
<line x1="195.58" y1="440.70" x2="195.58" y2="438.50" stroke="#111" stroke-width="0.90"/>
<line x1="215.51" y1="225.20" x2="215.51" y2="227.40" stroke="#111" stroke-width="0.90"/>
<line x1="215.51" y1="440.70" x2="215.51" y2="438.50" stroke="#111" stroke-width="0.90"/>
<line x1="235.96" y1="225.20" x2="235.96" y2="227.40" stroke="#111" stroke-width="0.90"/>
<line x1="235.96" y1="440.70" x2="235.96" y2="438.50" stroke="#111" stroke-width="0.90"/>
<line x1="252.73" y1="225.20" x2="252.73" y2="227.40" stroke="#111" stroke-width="0.90"/>
<line x1="252.73" y1="440.70" x2="252.73" y2="438.50" stroke="#111" stroke-width="0.90"/>
<line x1="269.50" y1="225.20" x2="269.50" y2="227.40" stroke="#111" stroke-width="0.90"/>
<line x1="269.50" y1="440.70" x2="269.50" y2="438.50" stroke="#111" stroke-width="0.90"/>
<line x1="286.26" y1="225.20" x2="286.26" y2="229.20" stroke="#111" stroke-width="0.90"/>
<line x1="286.26" y1="440.70" x2="286.26" y2="436.70" stroke="#111" stroke-width="0.90"/>
<line x1="303.02" y1="225.20" x2="303.02" y2="227.40" stroke="#111" stroke-width="0.90"/>
<line x1="303.02" y1="440.70" x2="303.02" y2="438.50" stroke="#111" stroke-width="0.90"/>
<line x1="319.79" y1="225.20" x2="319.79" y2="227.40" stroke="#111" stroke-width="0.90"/>
<line x1="319.79" y1="440.70" x2="319.79" y2="438.50" stroke="#111" stroke-width="0.90"/>
<line x1="336.56" y1="225.20" x2="336.56" y2="227.40" stroke="#111" stroke-width="0.90"/>
<line x1="336.56" y1="440.70" x2="336.56" y2="438.50" stroke="#111" stroke-width="0.90"/>
<line x1="353.32" y1="225.20" x2="353.32" y2="229.20" stroke="#111" stroke-width="0.90"/>
<line x1="353.32" y1="440.70" x2="353.32" y2="436.70" stroke="#111" stroke-width="0.90"/>
<line x1="370.09" y1="225.20" x2="370.09" y2="227.40" stroke="#111" stroke-width="0.90"/>
<line x1="370.09" y1="440.70" x2="370.09" y2="438.50" stroke="#111" stroke-width="0.90"/>
<line x1="386.85" y1="225.20" x2="386.85" y2="227.40" stroke="#111" stroke-width="0.90"/>
<line x1="386.85" y1="440.70" x2="386.85" y2="438.50" stroke="#111" stroke-width="0.90"/>
<line x1="48.30" y1="538.60" x2="51.90" y2="538.60" stroke="#111" stroke-width="0.90"/>
<line x1="386.90" y1="538.60" x2="383.30" y2="538.60" stroke="#111" stroke-width="0.90"/>
<line x1="48.30" y1="528.81" x2="51.90" y2="528.81" stroke="#111" stroke-width="0.90"/>
<line x1="386.90" y1="528.81" x2="383.30" y2="528.81" stroke="#111" stroke-width="0.90"/>
<line x1="48.30" y1="519.02" x2="51.90" y2="519.02" stroke="#111" stroke-width="0.90"/>
<line x1="386.90" y1="519.02" x2="383.30" y2="519.02" stroke="#111" stroke-width="0.90"/>
<line x1="48.30" y1="509.23" x2="51.90" y2="509.23" stroke="#111" stroke-width="0.90"/>
<line x1="386.90" y1="509.23" x2="383.30" y2="509.23" stroke="#111" stroke-width="0.90"/>
<line x1="48.30" y1="499.44" x2="51.90" y2="499.44" stroke="#111" stroke-width="0.90"/>
<line x1="386.90" y1="499.44" x2="383.30" y2="499.44" stroke="#111" stroke-width="0.90"/>
<line x1="48.30" y1="489.65" x2="51.90" y2="489.65" stroke="#111" stroke-width="0.90"/>
<line x1="386.90" y1="489.65" x2="383.30" y2="489.65" stroke="#111" stroke-width="0.90"/>
<line x1="48.30" y1="479.86" x2="51.90" y2="479.86" stroke="#111" stroke-width="0.90"/>
<line x1="386.90" y1="479.86" x2="383.30" y2="479.86" stroke="#111" stroke-width="0.90"/>
<line x1="48.30" y1="470.07" x2="51.90" y2="470.07" stroke="#111" stroke-width="0.90"/>
<line x1="386.90" y1="470.07" x2="383.30" y2="470.07" stroke="#111" stroke-width="0.90"/>
<line x1="48.30" y1="460.28" x2="51.90" y2="460.28" stroke="#111" stroke-width="0.90"/>
<line x1="386.90" y1="460.28" x2="383.30" y2="460.28" stroke="#111" stroke-width="0.90"/>
<line x1="48.30" y1="450.49" x2="51.90" y2="450.49" stroke="#111" stroke-width="0.90"/>
<line x1="386.90" y1="450.49" x2="383.30" y2="450.49" stroke="#111" stroke-width="0.90"/>
<line x1="48.30" y1="538.60" x2="52.30" y2="538.60" stroke="#111" stroke-width="1.00"/>
<line x1="386.90" y1="538.60" x2="382.90" y2="538.60" stroke="#111" stroke-width="1.00"/>
<line x1="48.30" y1="509.23" x2="52.30" y2="509.23" stroke="#111" stroke-width="1.00"/>
<line x1="386.90" y1="509.23" x2="382.90" y2="509.23" stroke="#111" stroke-width="1.00"/>
<line x1="48.30" y1="460.28" x2="52.30" y2="460.28" stroke="#111" stroke-width="1.00"/>
<line x1="386.90" y1="460.28" x2="382.90" y2="460.28" stroke="#111" stroke-width="1.00"/>
<line x1="48.30" y1="440.70" x2="48.30" y2="444.70" stroke="#111" stroke-width="0.90"/>
<line x1="48.30" y1="548.40" x2="48.30" y2="544.40" stroke="#111" stroke-width="0.90"/>
<line x1="82.38" y1="440.70" x2="82.38" y2="442.90" stroke="#111" stroke-width="0.90"/>
<line x1="82.38" y1="548.40" x2="82.38" y2="546.20" stroke="#111" stroke-width="0.90"/>
<line x1="102.31" y1="440.70" x2="102.31" y2="442.90" stroke="#111" stroke-width="0.90"/>
<line x1="102.31" y1="548.40" x2="102.31" y2="546.20" stroke="#111" stroke-width="0.90"/>
<line x1="116.45" y1="440.70" x2="116.45" y2="442.90" stroke="#111" stroke-width="0.90"/>
<line x1="116.45" y1="548.40" x2="116.45" y2="546.20" stroke="#111" stroke-width="0.90"/>
<line x1="127.42" y1="440.70" x2="127.42" y2="442.90" stroke="#111" stroke-width="0.90"/>
<line x1="127.42" y1="548.40" x2="127.42" y2="546.20" stroke="#111" stroke-width="0.90"/>
<line x1="136.39" y1="440.70" x2="136.39" y2="442.90" stroke="#111" stroke-width="0.90"/>
<line x1="136.39" y1="548.40" x2="136.39" y2="546.20" stroke="#111" stroke-width="0.90"/>
<line x1="143.97" y1="440.70" x2="143.97" y2="442.90" stroke="#111" stroke-width="0.90"/>
<line x1="143.97" y1="548.40" x2="143.97" y2="546.20" stroke="#111" stroke-width="0.90"/>
<line x1="150.53" y1="440.70" x2="150.53" y2="442.90" stroke="#111" stroke-width="0.90"/>
<line x1="150.53" y1="548.40" x2="150.53" y2="546.20" stroke="#111" stroke-width="0.90"/>
<line x1="156.32" y1="440.70" x2="156.32" y2="442.90" stroke="#111" stroke-width="0.90"/>
<line x1="156.32" y1="548.40" x2="156.32" y2="546.20" stroke="#111" stroke-width="0.90"/>
<line x1="161.50" y1="440.70" x2="161.50" y2="444.70" stroke="#111" stroke-width="0.90"/>
<line x1="161.50" y1="548.40" x2="161.50" y2="544.40" stroke="#111" stroke-width="0.90"/>
<line x1="195.58" y1="440.70" x2="195.58" y2="442.90" stroke="#111" stroke-width="0.90"/>
<line x1="195.58" y1="548.40" x2="195.58" y2="546.20" stroke="#111" stroke-width="0.90"/>
<line x1="215.51" y1="440.70" x2="215.51" y2="442.90" stroke="#111" stroke-width="0.90"/>
<line x1="215.51" y1="548.40" x2="215.51" y2="546.20" stroke="#111" stroke-width="0.90"/>
<line x1="235.96" y1="440.70" x2="235.96" y2="442.90" stroke="#111" stroke-width="0.90"/>
<line x1="235.96" y1="548.40" x2="235.96" y2="546.20" stroke="#111" stroke-width="0.90"/>
<line x1="252.73" y1="440.70" x2="252.73" y2="442.90" stroke="#111" stroke-width="0.90"/>
<line x1="252.73" y1="548.40" x2="252.73" y2="546.20" stroke="#111" stroke-width="0.90"/>
<line x1="269.50" y1="440.70" x2="269.50" y2="442.90" stroke="#111" stroke-width="0.90"/>
<line x1="269.50" y1="548.40" x2="269.50" y2="546.20" stroke="#111" stroke-width="0.90"/>
<line x1="286.26" y1="440.70" x2="286.26" y2="444.70" stroke="#111" stroke-width="0.90"/>
<line x1="286.26" y1="548.40" x2="286.26" y2="544.40" stroke="#111" stroke-width="0.90"/>
<line x1="303.02" y1="440.70" x2="303.02" y2="442.90" stroke="#111" stroke-width="0.90"/>
<line x1="303.02" y1="548.40" x2="303.02" y2="546.20" stroke="#111" stroke-width="0.90"/>
<line x1="319.79" y1="440.70" x2="319.79" y2="442.90" stroke="#111" stroke-width="0.90"/>
<line x1="319.79" y1="548.40" x2="319.79" y2="546.20" stroke="#111" stroke-width="0.90"/>
<line x1="336.56" y1="440.70" x2="336.56" y2="442.90" stroke="#111" stroke-width="0.90"/>
<line x1="336.56" y1="548.40" x2="336.56" y2="546.20" stroke="#111" stroke-width="0.90"/>
<line x1="353.32" y1="440.70" x2="353.32" y2="444.70" stroke="#111" stroke-width="0.90"/>
<line x1="353.32" y1="548.40" x2="353.32" y2="544.40" stroke="#111" stroke-width="0.90"/>
<line x1="370.09" y1="440.70" x2="370.09" y2="442.90" stroke="#111" stroke-width="0.90"/>
<line x1="370.09" y1="548.40" x2="370.09" y2="546.20" stroke="#111" stroke-width="0.90"/>
<line x1="386.85" y1="440.70" x2="386.85" y2="442.90" stroke="#111" stroke-width="0.90"/>
<line x1="386.85" y1="548.40" x2="386.85" y2="546.20" stroke="#111" stroke-width="0.90"/>
<line x1="48.30" y1="9.50" x2="216.51" y2="9.50" stroke="#111" stroke-width="1.50"/>
<line x1="48.30" y1="225.20" x2="216.51" y2="225.20" stroke="#111" stroke-width="1.50"/>
<line x1="219.20" y1="9.50" x2="386.90" y2="9.50" stroke="#111" stroke-width="1.50"/>
<line x1="219.20" y1="225.20" x2="386.90" y2="225.20" stroke="#111" stroke-width="1.50"/>
<line x1="48.30" y1="225.20" x2="216.51" y2="225.20" stroke="#111" stroke-width="1.50"/>
<line x1="48.30" y1="440.70" x2="216.51" y2="440.70" stroke="#111" stroke-width="1.50"/>
<line x1="219.20" y1="225.20" x2="386.90" y2="225.20" stroke="#111" stroke-width="1.50"/>
<line x1="219.20" y1="440.70" x2="386.90" y2="440.70" stroke="#111" stroke-width="1.50"/>
<line x1="48.30" y1="440.70" x2="216.51" y2="440.70" stroke="#111" stroke-width="1.50"/>
<line x1="48.30" y1="548.40" x2="216.51" y2="548.40" stroke="#111" stroke-width="1.50"/>
<line x1="219.20" y1="440.70" x2="386.90" y2="440.70" stroke="#111" stroke-width="1.50"/>
<line x1="219.20" y1="548.40" x2="386.90" y2="548.40" stroke="#111" stroke-width="1.50"/>
<line x1="48.30" y1="8.75" x2="48.30" y2="549.15" stroke="#111" stroke-width="1.50"/>
<line x1="386.90" y1="8.75" x2="386.90" y2="549.15" stroke="#111" stroke-width="1.50"/>
<text transform="translate(26.55,200.69) scale(1.017,1)" font-size="14.26" >1.0</text>
<text transform="translate(26.55,153.79) scale(1.017,1)" font-size="14.26" >1.5</text>
<text transform="translate(26.55,106.89) scale(1.017,1)" font-size="14.26" >2.0</text>
<text transform="translate(26.55,59.99) scale(1.017,1)" font-size="14.26" >2.5</text>
<text transform="translate(26.55,13.09) scale(1.017,1)" font-size="14.26" >3.0</text>
<text transform="translate(26.84,408.34) scale(1.017,1)" font-size="14.26" >0.1</text>
<text transform="translate(26.76,357.04) scale(1.017,1)" font-size="14.26" >0.2</text>
<text transform="translate(26.55,305.74) scale(1.017,1)" font-size="14.26" >0.3</text>
<text transform="translate(26.18,254.44) scale(1.017,1)" font-size="14.26" >0.4</text>
<text transform="translate(34.22,542.19) scale(1.017,1)" font-size="14.26" >1</text>
<text transform="translate(33.56,512.82) scale(1.017,1)" font-size="14.26" >4</text>
<text transform="translate(33.93,463.87) scale(1.017,1)" font-size="14.26" >9</text>
<text transform="translate(277.48,564.58) scale(0.987,1)" font-size="14.41" >0.2</text>
<text transform="translate(344.25,564.58) scale(0.987,1)" font-size="14.41" >0.4</text>
<text transform="translate(32.30,564.85) scale(0.976,1)" font-size="14.52" >10</text>
<text transform="translate(46.05,559.70) scale(1.168,1)" font-size="9.39" >−17</text>
<text transform="translate(145.40,564.85) scale(1.055,1)" font-size="14.52" >10</text>
<text transform="translate(160.35,559.61) scale(1.179,1)" font-size="9.25" >−16</text>
<!-- legend -->
<rect x="156.5" y="252.6" width="211" height="100" fill="#fff"/>
<line x1="174.3" y1="291.8" x2="191" y2="291.8" stroke="#3558cf" stroke-width="1.4" stroke-dasharray="6 4.7"/>
<line x1="174.3" y1="314.4" x2="191" y2="314.4" stroke="#067f06" stroke-width="1.4" stroke-dasharray="6 4.7"/>
<line x1="174.3" y1="337" x2="191" y2="337" stroke="#c85a5a" stroke-width="1.4" stroke-dasharray="6 4.7"/>
<line x1="294.3" y1="291.8" x2="313.6" y2="291.8" stroke="#3558cf" stroke-width="1.5"/>
<line x1="294.3" y1="314.4" x2="313.6" y2="314.4" stroke="#067f06" stroke-width="1.5"/>
<text transform="translate(17.10,185.15) rotate(-90) scale(1.177,1)" font-size="19.85" font-weight="bold">Δ</text>
<text transform="translate(17.50,169.80) rotate(-90) scale(1.061,1)" font-size="18.72" font-weight="bold">m</text>
<text transform="translate(10.50,152.39) rotate(-90) scale(0.977,1)" font-size="12.42" font-weight="bold">2</text>
<text transform="translate(20.00,152.88) rotate(-90) scale(1.415,1)" font-size="9.70" font-weight="bold">32</text>
<text transform="translate(17.62,137.79) rotate(-90) scale(0.801,1)" font-size="16.00" font-weight="bold">,</text>
<text transform="translate(16.63,125.60) rotate(-90) scale(1.144,1)" font-size="17.48" font-weight="bold">10</text>
<text transform="translate(10.18,104.89) rotate(-90) scale(1.326,1)" font-size="11.94" font-weight="bold">−3</text>
<text transform="translate(17.32,80.46) rotate(-90) scale(1.190,1)" font-size="18.33" font-weight="bold">e</text>
<text transform="translate(16.82,70.40) rotate(-90) scale(1.065,1)" font-size="18.51" font-weight="bold">V</text>
<text transform="translate(10.20,55.49) rotate(-90) scale(1.218,1)" font-size="12.12" font-weight="bold">2</text>
<text transform="translate(18.13,367.38) rotate(-90) scale(1.164,1)" font-size="16.74" font-weight="bold">sin</text>
<text transform="translate(12.60,342.07) rotate(-90) scale(0.963,1)" font-size="12.12" font-weight="bold">2</text>
<text transform="translate(18.70,332.93) rotate(-90) scale(1.189,1)" font-size="17.42" font-weight="bold">2</text>
<text transform="translate(18.92,323.41) rotate(-90) scale(1.257,1)" font-size="18.31" font-weight="bold" font-style="italic">θ</text>
<text transform="translate(20.89,312.30) rotate(-90) scale(1.200,1)" font-size="11.49" font-weight="bold">13</text>
<text transform="translate(21.50,512.06) rotate(-90) scale(1.241,1)" font-size="19.09" font-weight="bold">Δ</text>
<text transform="translate(21.14,493.40) rotate(-90) scale(1.096,1)" font-size="17.48" font-weight="bold" font-style="italic">χ</text>
<text transform="translate(15.00,483.24) rotate(-90) scale(1.066,1)" font-size="12.73" font-weight="bold">2</text>
<text transform="translate(202.49,570.36) scale(1.460,1)" font-size="13.83" font-weight="bold" font-style="italic">σ</text>
<text transform="translate(214.37,573.70) scale(1.349,1)" font-size="9.93" font-weight="bold">rel</text>
<text transform="translate(183.12,272.00) scale(1.324,1)" font-size="14.09" font-weight="bold">Δ</text>
<text transform="translate(199.78,271.82) scale(1.245,1)" font-size="15.26" font-weight="bold" font-style="italic">χ</text>
<text transform="translate(208.36,265.80) scale(1.244,1)" font-size="10.91" font-weight="bold">2</text>
<text transform="translate(244.13,271.44) scale(1.145,1)" font-size="15.89" font-weight="bold">Feldman-Cousins</text>
<text transform="translate(210.38,296.80) scale(1.088,1)" font-size="15.15" font-weight="bold">1</text>
<text transform="translate(222.58,296.87) scale(1.366,1)" font-size="12.71" font-weight="bold" font-style="italic">σ</text>
<text transform="translate(211.00,319.40) scale(1.163,1)" font-size="15.15" font-weight="bold">2</text>
<text transform="translate(222.58,319.47) scale(1.366,1)" font-size="12.71" font-weight="bold" font-style="italic">σ</text>
<text transform="translate(211.10,341.85) scale(1.153,1)" font-size="14.93" font-weight="bold">3</text>
<text transform="translate(222.58,342.07) scale(1.366,1)" font-size="12.71" font-weight="bold" font-style="italic">σ</text>
<text transform="translate(330.38,296.80) scale(1.088,1)" font-size="15.15" font-weight="bold">1</text>
<text transform="translate(342.58,296.87) scale(1.366,1)" font-size="12.71" font-weight="bold" font-style="italic">σ</text>
<text transform="translate(331.00,319.40) scale(1.163,1)" font-size="15.15" font-weight="bold">2</text>
<text transform="translate(342.58,319.47) scale(1.366,1)" font-size="12.71" font-weight="bold" font-style="italic">σ</text>
</svg>
</body></html>
